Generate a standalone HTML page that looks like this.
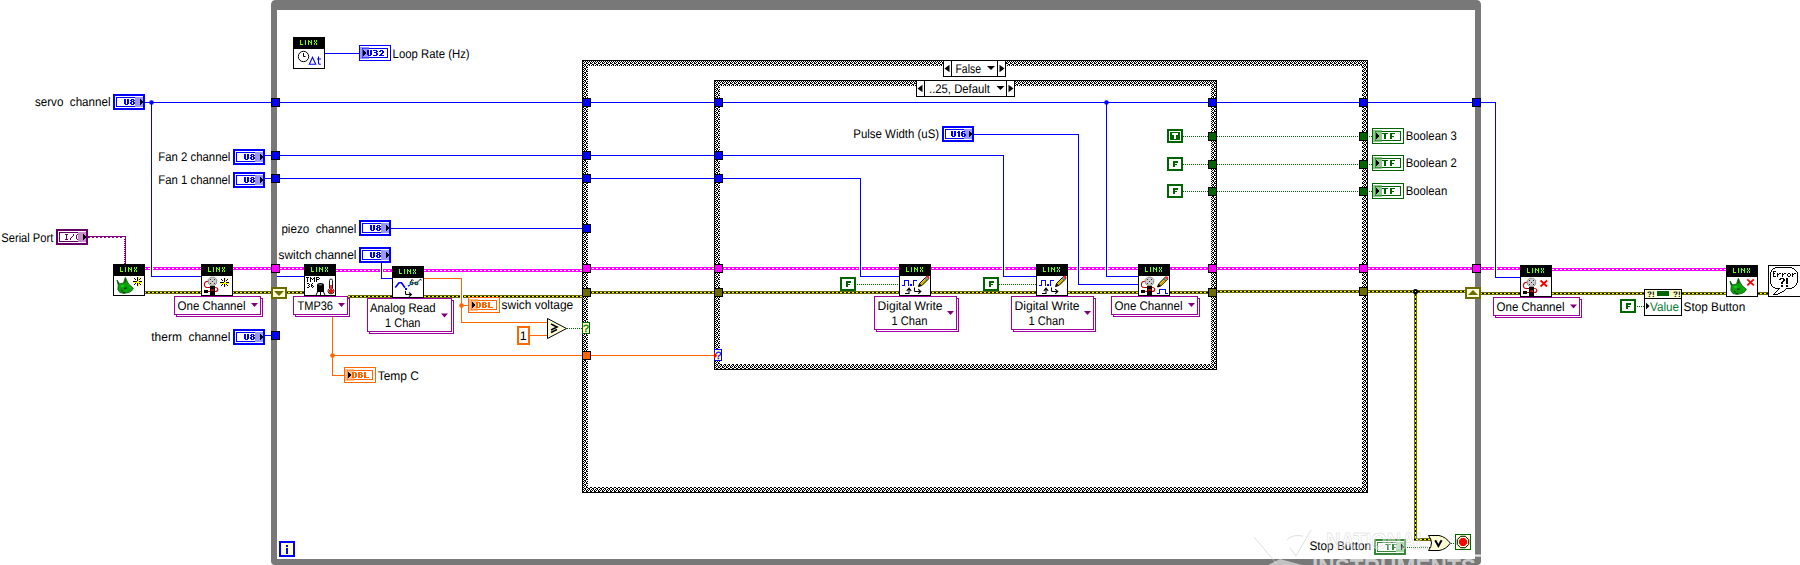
<!DOCTYPE html>
<html><head><meta charset="utf-8"><title>Block Diagram</title>
<style>html,body{margin:0;padding:0;background:#fff;}body{width:1800px;height:565px;overflow:hidden;font-family:"Liberation Sans",sans-serif;}svg{display:block}</style>
</head><body>
<svg width="1800" height="565" viewBox="0 0 1800 565" shape-rendering="crispEdges" text-rendering="geometricPrecision">
<defs>
<pattern id="pd" width="4" height="1" patternUnits="userSpaceOnUse"><rect width="2" height="1" fill="#fff"/><rect x="2" width="2" height="1" fill="#ff00ff"/></pattern>
<pattern id="yd" width="4" height="1" patternUnits="userSpaceOnUse"><rect width="2" height="1" fill="#ffff00"/><rect x="2" width="2" height="1" fill="#000"/></pattern>
<pattern id="ydv" width="1" height="4" patternUnits="userSpaceOnUse"><rect width="1" height="2" fill="#ffff00"/><rect y="2" width="1" height="2" fill="#000"/></pattern>
<pattern id="gd" width="2" height="1" patternUnits="userSpaceOnUse"><rect width="1" height="1" fill="#fff"/><rect x="1" width="1" height="1" fill="#006400"/></pattern>
<pattern id="ck" width="4" height="4" patternUnits="userSpaceOnUse"><rect width="4" height="4" fill="#fff"/><rect x="0" y="0" width="1" height="1" fill="#000"/><rect x="1" y="0" width="1" height="1" fill="#000"/><rect x="1" y="1" width="1" height="1" fill="#000"/><rect x="3" y="1" width="1" height="1" fill="#000"/><rect x="0" y="2" width="1" height="1" fill="#000"/><rect x="2" y="2" width="1" height="1" fill="#000"/><rect x="2" y="3" width="1" height="1" fill="#000"/><rect x="3" y="3" width="1" height="1" fill="#000"/></pattern>
</defs>
<rect x="0" y="0" width="1800" height="565" fill="#fff" />
<path d="M271,561 V5 Q271,0 276,0 H1476 Q1481,0 1481,5 V561 Q1481,565 1477,565 H275 Q271,565 271,561 Z" fill="#787878" shape-rendering="auto"/>
<rect x="277" y="10" width="1198" height="549" fill="#fff" />
<rect x="582" y="60" width="786" height="433" fill="#000" />
<rect x="583" y="61" width="784" height="431" fill="url(#ck)" />
<rect x="588" y="66" width="774" height="421" fill="#fff" />
<rect x="714" y="80" width="503" height="290" fill="#000" />
<rect x="715" y="81" width="501" height="288" fill="url(#ck)" />
<rect x="720" y="86" width="491" height="278" fill="#fff" />
<rect x="943" y="60" width="63" height="17" fill="#000" />
<rect x="944" y="61" width="61" height="15" fill="#fff" />
<rect x="951" y="60" width="1" height="17" fill="#000" />
<rect x="997" y="60" width="1" height="17" fill="#000" />
<path d="M944.5,68.5 l5,-3.7 v7.4 Z" fill="#000" shape-rendering="auto"/>
<path d="M1004.5,68.5 l-5,-3.7 v7.4 Z" fill="#000" shape-rendering="auto"/>
<text x="955.5" y="72.5" font-size="12.5" fill="#000" text-anchor="start" font-weight="normal" font-family="Liberation Sans" textLength="25.5" lengthAdjust="spacingAndGlyphs" xml:space="preserve" >False</text>
<path d="M987,66 h8 l-4,4 Z" fill="#000" shape-rendering="auto"/>
<rect x="916" y="80" width="99" height="17" fill="#000" />
<rect x="917" y="81" width="97" height="15" fill="#fff" />
<rect x="924" y="80" width="1" height="17" fill="#000" />
<rect x="1006" y="80" width="1" height="17" fill="#000" />
<path d="M917.5,88.5 l5,-3.7 v7.4 Z" fill="#000" shape-rendering="auto"/>
<path d="M1013.5,88.5 l-5,-3.7 v7.4 Z" fill="#000" shape-rendering="auto"/>
<text x="929" y="92.5" font-size="12.5" fill="#000" text-anchor="start" font-weight="normal" font-family="Liberation Sans" textLength="61" lengthAdjust="spacingAndGlyphs" xml:space="preserve" >..25, Default</text>
<path d="M996.5,86 h8 l-4,4 Z" fill="#000" shape-rendering="auto"/>
<rect x="145" y="102" width="1350" height="1" fill="#0000ff" />
<rect x="151" y="102" width="1" height="175" fill="#0000ff" />
<rect x="151" y="276" width="50" height="1" fill="#0000ff" />
<circle cx="151.5" cy="102.5" r="2.3" fill="#0000ff" shape-rendering="auto"/>
<rect x="1495" y="102" width="1" height="176" fill="#0000ff" />
<rect x="1495" y="277" width="25" height="1" fill="#0000ff" />
<rect x="1106" y="102" width="1" height="175" fill="#0000ff" />
<rect x="1106" y="276" width="32" height="1" fill="#0000ff" />
<circle cx="1106.5" cy="102.5" r="2.3" fill="#0000ff" shape-rendering="auto"/>
<rect x="265" y="155" width="739" height="1" fill="#0000ff" />
<rect x="1003" y="155" width="1" height="122" fill="#0000ff" />
<rect x="1003" y="276" width="33" height="1" fill="#0000ff" />
<rect x="265" y="178" width="596" height="1" fill="#0000ff" />
<rect x="860" y="178" width="1" height="99" fill="#0000ff" />
<rect x="860" y="276" width="39" height="1" fill="#0000ff" />
<rect x="391" y="228" width="192" height="1" fill="#0000ff" />
<rect x="381" y="263" width="1" height="16" fill="#0000ff" />
<rect x="381" y="278" width="11" height="1" fill="#0000ff" />
<rect x="265" y="335" width="7" height="1" fill="#0000ff" />
<rect x="277" y="276" width="27" height="1" fill="#0000ff" />
<rect x="325" y="53" width="34" height="1" fill="#0000ff" />
<rect x="974" y="134" width="105" height="1" fill="#0000ff" />
<rect x="1078" y="134" width="1" height="151" fill="#0000ff" />
<rect x="1078" y="284" width="60" height="1" fill="#0000ff" />
<rect x="145" y="267" width="56" height="3" fill="#ff00ff" />
<rect x="145" y="268" width="56" height="1" fill="url(#pd)" />
<rect x="233" y="267" width="71" height="3" fill="#ff00ff" />
<rect x="233" y="268" width="71" height="1" fill="url(#pd)" />
<rect x="336" y="269" width="56" height="3" fill="#ff00ff" />
<rect x="336" y="270" width="56" height="1" fill="url(#pd)" />
<rect x="424" y="269" width="159" height="3" fill="#ff00ff" />
<rect x="424" y="270" width="159" height="1" fill="url(#pd)" />
<rect x="590" y="267" width="309" height="3" fill="#ff00ff" />
<rect x="590" y="268" width="309" height="1" fill="url(#pd)" />
<rect x="931" y="267" width="105" height="3" fill="#ff00ff" />
<rect x="931" y="268" width="105" height="1" fill="url(#pd)" />
<rect x="1068" y="267" width="70" height="3" fill="#ff00ff" />
<rect x="1068" y="268" width="70" height="1" fill="url(#pd)" />
<rect x="1170" y="267" width="350" height="3" fill="#ff00ff" />
<rect x="1170" y="268" width="350" height="1" fill="url(#pd)" />
<rect x="1552" y="268" width="174" height="3" fill="#ff00ff" />
<rect x="1552" y="269" width="174" height="1" fill="url(#pd)" />
<rect x="145" y="291" width="56" height="3" fill="#6b6b00" />
<rect x="145" y="292" width="56" height="1" fill="url(#yd)" />
<rect x="233" y="291" width="71" height="3" fill="#6b6b00" />
<rect x="233" y="292" width="71" height="1" fill="url(#yd)" />
<rect x="348" y="295" width="44" height="3" fill="#6b6b00" />
<rect x="348" y="296" width="44" height="1" fill="url(#yd)" />
<rect x="424" y="295" width="159" height="3" fill="#6b6b00" />
<rect x="424" y="296" width="159" height="1" fill="url(#yd)" />
<rect x="590" y="291" width="309" height="3" fill="#6b6b00" />
<rect x="590" y="292" width="309" height="1" fill="url(#yd)" />
<rect x="931" y="291" width="105" height="3" fill="#6b6b00" />
<rect x="931" y="292" width="105" height="1" fill="url(#yd)" />
<rect x="1068" y="291" width="70" height="3" fill="#6b6b00" />
<rect x="1068" y="292" width="70" height="1" fill="url(#yd)" />
<rect x="1170" y="291" width="39" height="3" fill="#6b6b00" />
<rect x="1170" y="292" width="39" height="1" fill="url(#yd)" />
<rect x="1216" y="290" width="250" height="3" fill="#6b6b00" />
<rect x="1216" y="291" width="250" height="1" fill="url(#yd)" />
<rect x="1480" y="292" width="40" height="3" fill="#6b6b00" />
<rect x="1480" y="293" width="40" height="1" fill="url(#yd)" />
<rect x="1552" y="292" width="174" height="3" fill="#6b6b00" />
<rect x="1552" y="293" width="174" height="1" fill="url(#yd)" />
<rect x="1758" y="292" width="10" height="3" fill="#6b6b00" />
<rect x="1758" y="293" width="10" height="1" fill="url(#yd)" />
<rect x="1414" y="292" width="3" height="249" fill="#6b6b00" />
<rect x="1415" y="292" width="1" height="249" fill="url(#ydv)" />
<rect x="1414" y="538" width="18" height="3" fill="#6b6b00" />
<rect x="1414" y="539" width="18" height="1" fill="url(#yd)" />
<circle cx="1415.5" cy="291.5" r="2.6" fill="#000" shape-rendering="auto"/><rect x="1415" y="291" width="1" height="1" fill="#ff0"/>
<rect x="150" y="266" width="3" height="5" fill="#fff" />
<rect x="151" y="266" width="1" height="5" fill="#0000ff" />
<rect x="380" y="268" width="3" height="5" fill="#fff" />
<rect x="381" y="268" width="1" height="5" fill="#0000ff" />
<rect x="859" y="266" width="3" height="5" fill="#fff" />
<rect x="860" y="266" width="1" height="5" fill="#0000ff" />
<rect x="1002" y="266" width="3" height="5" fill="#fff" />
<rect x="1003" y="266" width="1" height="5" fill="#0000ff" />
<rect x="1077" y="266" width="3" height="5" fill="#fff" />
<rect x="1078" y="266" width="1" height="5" fill="#0000ff" />
<rect x="1105" y="266" width="3" height="5" fill="#fff" />
<rect x="1106" y="266" width="1" height="5" fill="#0000ff" />
<rect x="1494" y="266" width="3" height="5" fill="#fff" />
<rect x="1495" y="266" width="1" height="5" fill="#0000ff" />
<rect x="424" y="278" width="38" height="1" fill="#ff6600" />
<rect x="461" y="278" width="1" height="45" fill="#ff6600" />
<rect x="461" y="322" width="86" height="1" fill="#ff6600" />
<rect x="460" y="294" width="3" height="5" fill="#fff" />
<rect x="461" y="294" width="1" height="5" fill="#ff6600" />
<rect x="461" y="305" width="7" height="1" fill="#ff6600" />
<circle cx="461.5" cy="305.5" r="2.3" fill="#ff6600" shape-rendering="auto"/>
<rect x="530" y="335" width="18" height="1" fill="#ff6600" />
<rect x="332" y="316" width="1" height="60" fill="#ff6600" />
<rect x="332" y="375" width="12" height="1" fill="#ff6600" />
<rect x="332" y="355" width="383" height="1" fill="#ff6600" />
<circle cx="332.5" cy="355.5" r="2.3" fill="#ff6600" shape-rendering="auto"/>
<rect x="567" y="328" width="16" height="1" fill="url(#gd)" />
<rect x="1183" y="136" width="189" height="1" fill="url(#gd)" />
<rect x="1183" y="164" width="189" height="1" fill="url(#gd)" />
<rect x="1183" y="191" width="189" height="1" fill="url(#gd)" />
<rect x="856" y="284" width="43" height="1" fill="url(#gd)" />
<rect x="999" y="284" width="37" height="1" fill="url(#gd)" />
<rect x="1636" y="306" width="8" height="1" fill="url(#gd)" />
<rect x="1406" y="547" width="26" height="1" fill="url(#gd)" />
<rect x="1450" y="543" width="5" height="1" fill="url(#gd)" />
<rect x="88" y="236" width="38" height="1" fill="#800080" />
<rect x="125" y="236" width="1" height="28" fill="#800080" />
<rect x="88" y="237" width="2" height="1" fill="#800080" />
<rect x="92" y="237" width="2" height="1" fill="#800080" />
<rect x="96" y="237" width="2" height="1" fill="#800080" />
<rect x="100" y="237" width="2" height="1" fill="#800080" />
<rect x="104" y="237" width="2" height="1" fill="#800080" />
<rect x="108" y="237" width="2" height="1" fill="#800080" />
<rect x="112" y="237" width="2" height="1" fill="#800080" />
<rect x="116" y="237" width="2" height="1" fill="#800080" />
<rect x="120" y="237" width="2" height="1" fill="#800080" />
<rect x="124" y="239" width="1" height="1" fill="#800080" />
<rect x="124" y="241" width="1" height="1" fill="#800080" />
<rect x="124" y="243" width="1" height="1" fill="#800080" />
<rect x="124" y="245" width="1" height="1" fill="#800080" />
<rect x="124" y="247" width="1" height="1" fill="#800080" />
<rect x="124" y="249" width="1" height="1" fill="#800080" />
<rect x="124" y="251" width="1" height="1" fill="#800080" />
<rect x="124" y="253" width="1" height="1" fill="#800080" />
<rect x="124" y="255" width="1" height="1" fill="#800080" />
<rect x="124" y="257" width="1" height="1" fill="#800080" />
<rect x="124" y="259" width="1" height="1" fill="#800080" />
<rect x="124" y="261" width="1" height="1" fill="#800080" />
<rect x="124" y="263" width="1" height="1" fill="#800080" />
<rect x="271" y="98" width="9" height="9" fill="#000" />
<rect x="272" y="99" width="7" height="7" fill="#0000ff" />
<rect x="271" y="151" width="9" height="9" fill="#000" />
<rect x="272" y="152" width="7" height="7" fill="#0000ff" />
<rect x="271" y="174" width="9" height="9" fill="#000" />
<rect x="272" y="175" width="7" height="7" fill="#0000ff" />
<rect x="271" y="331" width="9" height="9" fill="#000" />
<rect x="272" y="332" width="7" height="7" fill="#0000ff" />
<rect x="271" y="264" width="9" height="9" fill="#000" />
<rect x="272" y="265" width="7" height="7" fill="#ff00ff" />
<rect x="582" y="98" width="9" height="9" fill="#000" />
<rect x="583" y="99" width="7" height="7" fill="#0000ff" />
<rect x="582" y="151" width="9" height="9" fill="#000" />
<rect x="583" y="152" width="7" height="7" fill="#0000ff" />
<rect x="582" y="174" width="9" height="9" fill="#000" />
<rect x="583" y="175" width="7" height="7" fill="#0000ff" />
<rect x="582" y="224" width="9" height="9" fill="#000" />
<rect x="583" y="225" width="7" height="7" fill="#0000ff" />
<rect x="582" y="264" width="9" height="9" fill="#000" />
<rect x="583" y="265" width="7" height="7" fill="#ff00ff" />
<rect x="582" y="288" width="9" height="9" fill="#000" />
<rect x="583" y="289" width="7" height="7" fill="#6b6b00" />
<rect x="582" y="351" width="9" height="9" fill="#000" />
<rect x="583" y="352" width="7" height="7" fill="#ff6600" />
<rect x="714" y="98" width="9" height="9" fill="#000" />
<rect x="715" y="99" width="7" height="7" fill="#0000ff" />
<rect x="714" y="151" width="9" height="9" fill="#000" />
<rect x="715" y="152" width="7" height="7" fill="#0000ff" />
<rect x="714" y="174" width="9" height="9" fill="#000" />
<rect x="715" y="175" width="7" height="7" fill="#0000ff" />
<rect x="714" y="264" width="9" height="9" fill="#000" />
<rect x="715" y="265" width="7" height="7" fill="#ff00ff" />
<rect x="714" y="288" width="9" height="9" fill="#000" />
<rect x="715" y="289" width="7" height="7" fill="#6b6b00" />
<rect x="1208" y="98" width="9" height="9" fill="#000" />
<rect x="1209" y="99" width="7" height="7" fill="#0000ff" />
<rect x="1208" y="264" width="9" height="9" fill="#000" />
<rect x="1209" y="265" width="7" height="7" fill="#ff00ff" />
<rect x="1208" y="288" width="9" height="9" fill="#000" />
<rect x="1209" y="289" width="7" height="7" fill="#6b6b00" />
<rect x="1208" y="132" width="9" height="9" fill="#000" />
<rect x="1209" y="133" width="7" height="7" fill="#006400" />
<rect x="1359" y="132" width="9" height="9" fill="#000" />
<rect x="1360" y="133" width="7" height="7" fill="#006400" />
<rect x="1208" y="160" width="9" height="9" fill="#000" />
<rect x="1209" y="161" width="7" height="7" fill="#006400" />
<rect x="1359" y="160" width="9" height="9" fill="#000" />
<rect x="1360" y="161" width="7" height="7" fill="#006400" />
<rect x="1208" y="187" width="9" height="9" fill="#000" />
<rect x="1209" y="188" width="7" height="7" fill="#006400" />
<rect x="1359" y="187" width="9" height="9" fill="#000" />
<rect x="1360" y="188" width="7" height="7" fill="#006400" />
<rect x="1359" y="98" width="9" height="9" fill="#000" />
<rect x="1360" y="99" width="7" height="7" fill="#0000ff" />
<rect x="1359" y="264" width="9" height="9" fill="#000" />
<rect x="1360" y="265" width="7" height="7" fill="#ff00ff" />
<rect x="1359" y="287" width="9" height="9" fill="#000" />
<rect x="1360" y="288" width="7" height="7" fill="#6b6b00" />
<rect x="1472" y="98" width="9" height="9" fill="#000" />
<rect x="1473" y="99" width="7" height="7" fill="#0000ff" />
<rect x="1472" y="264" width="9" height="9" fill="#000" />
<rect x="1473" y="265" width="7" height="7" fill="#ff00ff" />
<rect x="582" y="322" width="8" height="12" fill="#006400" />
<rect x="583" y="323" width="6" height="10" fill="#ffffc8" />
<text x="586" y="332" font-size="10.5" fill="#006400" text-anchor="middle" font-weight="normal" font-family="Liberation Sans" xml:space="preserve" stroke="#006400" stroke-width="0.3">?</text>
<rect x="714" y="349" width="8" height="12" fill="#0000ff" />
<rect x="715" y="350" width="6" height="10" fill="#ffffc8" />
<text x="718.3" y="359" font-size="10.5" fill="#0000ff" text-anchor="middle" font-weight="normal" font-family="Liberation Sans" xml:space="preserve" stroke="#0000ff" stroke-width="0.3">?</text>
<path d="M714,352 L717.3,355.5 L714,359 Z" fill="#ff0000" stroke="none" stroke-width="1" shape-rendering="auto" />
<rect x="271" y="287" width="16" height="12" fill="#6b6b00" />
<rect x="273" y="289" width="12" height="8" fill="#ffffd8" />
<path d="M274,291 h10 l-5,5 Z" fill="#6b6b00" shape-rendering="auto"/>
<rect x="1465" y="287" width="16" height="12" fill="#6b6b00" />
<rect x="1467" y="289" width="12" height="8" fill="#ffffd8" />
<path d="M1468,295 h10 l-5,-5 Z" fill="#6b6b00" shape-rendering="auto"/>
<rect x="279" y="541" width="16" height="16" fill="#0000ff" />
<rect x="281" y="543" width="12" height="12" fill="#ffffc8" />
<rect x="286" y="545" width="2" height="2" fill="#0000ff" />
<rect x="286" y="548" width="2" height="6" fill="#0000ff" />
<rect x="113" y="94" width="32" height="16" fill="#0000ff" />
<rect x="115" y="96" width="28" height="12" fill="#fff" />
<rect x="116" y="97" width="26" height="10" fill="#0000ff" />
<rect x="117" y="98" width="24" height="8" fill="#fff" />
<rect x="135" y="97" width="8" height="10" fill="#9999ff" />
<rect x="140" y="99" width="1" height="6" fill="#000" />
<rect x="141" y="100" width="1" height="4" fill="#000" />
<rect x="142" y="101" width="1" height="2" fill="#000" />
<rect x="124" y="99" width="2" height="1" fill="#0000ff" />
<rect x="127" y="99" width="2" height="1" fill="#0000ff" />
<rect x="124" y="100" width="2" height="1" fill="#0000ff" />
<rect x="127" y="100" width="2" height="1" fill="#0000ff" />
<rect x="124" y="101" width="2" height="1" fill="#0000ff" />
<rect x="127" y="101" width="2" height="1" fill="#0000ff" />
<rect x="124" y="102" width="2" height="1" fill="#0000ff" />
<rect x="127" y="102" width="2" height="1" fill="#0000ff" />
<rect x="124" y="103" width="2" height="1" fill="#0000ff" />
<rect x="127" y="103" width="2" height="1" fill="#0000ff" />
<rect x="125" y="104" width="3" height="1" fill="#0000ff" />
<rect x="131" y="99" width="3" height="1" fill="#0000ff" />
<rect x="130" y="100" width="2" height="1" fill="#0000ff" />
<rect x="133" y="100" width="2" height="1" fill="#0000ff" />
<rect x="131" y="101" width="3" height="1" fill="#0000ff" />
<rect x="130" y="102" width="2" height="1" fill="#0000ff" />
<rect x="133" y="102" width="2" height="1" fill="#0000ff" />
<rect x="130" y="103" width="2" height="1" fill="#0000ff" />
<rect x="133" y="103" width="2" height="1" fill="#0000ff" />
<rect x="131" y="104" width="3" height="1" fill="#0000ff" />
<rect x="233" y="149" width="32" height="16" fill="#0000ff" />
<rect x="235" y="151" width="28" height="12" fill="#fff" />
<rect x="236" y="152" width="26" height="10" fill="#0000ff" />
<rect x="237" y="153" width="24" height="8" fill="#fff" />
<rect x="255" y="152" width="8" height="10" fill="#9999ff" />
<rect x="260" y="154" width="1" height="6" fill="#000" />
<rect x="261" y="155" width="1" height="4" fill="#000" />
<rect x="262" y="156" width="1" height="2" fill="#000" />
<rect x="244" y="154" width="2" height="1" fill="#0000ff" />
<rect x="247" y="154" width="2" height="1" fill="#0000ff" />
<rect x="244" y="155" width="2" height="1" fill="#0000ff" />
<rect x="247" y="155" width="2" height="1" fill="#0000ff" />
<rect x="244" y="156" width="2" height="1" fill="#0000ff" />
<rect x="247" y="156" width="2" height="1" fill="#0000ff" />
<rect x="244" y="157" width="2" height="1" fill="#0000ff" />
<rect x="247" y="157" width="2" height="1" fill="#0000ff" />
<rect x="244" y="158" width="2" height="1" fill="#0000ff" />
<rect x="247" y="158" width="2" height="1" fill="#0000ff" />
<rect x="245" y="159" width="3" height="1" fill="#0000ff" />
<rect x="251" y="154" width="3" height="1" fill="#0000ff" />
<rect x="250" y="155" width="2" height="1" fill="#0000ff" />
<rect x="253" y="155" width="2" height="1" fill="#0000ff" />
<rect x="251" y="156" width="3" height="1" fill="#0000ff" />
<rect x="250" y="157" width="2" height="1" fill="#0000ff" />
<rect x="253" y="157" width="2" height="1" fill="#0000ff" />
<rect x="250" y="158" width="2" height="1" fill="#0000ff" />
<rect x="253" y="158" width="2" height="1" fill="#0000ff" />
<rect x="251" y="159" width="3" height="1" fill="#0000ff" />
<rect x="233" y="172" width="32" height="16" fill="#0000ff" />
<rect x="235" y="174" width="28" height="12" fill="#fff" />
<rect x="236" y="175" width="26" height="10" fill="#0000ff" />
<rect x="237" y="176" width="24" height="8" fill="#fff" />
<rect x="255" y="175" width="8" height="10" fill="#9999ff" />
<rect x="260" y="177" width="1" height="6" fill="#000" />
<rect x="261" y="178" width="1" height="4" fill="#000" />
<rect x="262" y="179" width="1" height="2" fill="#000" />
<rect x="244" y="177" width="2" height="1" fill="#0000ff" />
<rect x="247" y="177" width="2" height="1" fill="#0000ff" />
<rect x="244" y="178" width="2" height="1" fill="#0000ff" />
<rect x="247" y="178" width="2" height="1" fill="#0000ff" />
<rect x="244" y="179" width="2" height="1" fill="#0000ff" />
<rect x="247" y="179" width="2" height="1" fill="#0000ff" />
<rect x="244" y="180" width="2" height="1" fill="#0000ff" />
<rect x="247" y="180" width="2" height="1" fill="#0000ff" />
<rect x="244" y="181" width="2" height="1" fill="#0000ff" />
<rect x="247" y="181" width="2" height="1" fill="#0000ff" />
<rect x="245" y="182" width="3" height="1" fill="#0000ff" />
<rect x="251" y="177" width="3" height="1" fill="#0000ff" />
<rect x="250" y="178" width="2" height="1" fill="#0000ff" />
<rect x="253" y="178" width="2" height="1" fill="#0000ff" />
<rect x="251" y="179" width="3" height="1" fill="#0000ff" />
<rect x="250" y="180" width="2" height="1" fill="#0000ff" />
<rect x="253" y="180" width="2" height="1" fill="#0000ff" />
<rect x="250" y="181" width="2" height="1" fill="#0000ff" />
<rect x="253" y="181" width="2" height="1" fill="#0000ff" />
<rect x="251" y="182" width="3" height="1" fill="#0000ff" />
<rect x="233" y="329" width="32" height="16" fill="#0000ff" />
<rect x="235" y="331" width="28" height="12" fill="#fff" />
<rect x="236" y="332" width="26" height="10" fill="#0000ff" />
<rect x="237" y="333" width="24" height="8" fill="#fff" />
<rect x="255" y="332" width="8" height="10" fill="#9999ff" />
<rect x="260" y="334" width="1" height="6" fill="#000" />
<rect x="261" y="335" width="1" height="4" fill="#000" />
<rect x="262" y="336" width="1" height="2" fill="#000" />
<rect x="244" y="334" width="2" height="1" fill="#0000ff" />
<rect x="247" y="334" width="2" height="1" fill="#0000ff" />
<rect x="244" y="335" width="2" height="1" fill="#0000ff" />
<rect x="247" y="335" width="2" height="1" fill="#0000ff" />
<rect x="244" y="336" width="2" height="1" fill="#0000ff" />
<rect x="247" y="336" width="2" height="1" fill="#0000ff" />
<rect x="244" y="337" width="2" height="1" fill="#0000ff" />
<rect x="247" y="337" width="2" height="1" fill="#0000ff" />
<rect x="244" y="338" width="2" height="1" fill="#0000ff" />
<rect x="247" y="338" width="2" height="1" fill="#0000ff" />
<rect x="245" y="339" width="3" height="1" fill="#0000ff" />
<rect x="251" y="334" width="3" height="1" fill="#0000ff" />
<rect x="250" y="335" width="2" height="1" fill="#0000ff" />
<rect x="253" y="335" width="2" height="1" fill="#0000ff" />
<rect x="251" y="336" width="3" height="1" fill="#0000ff" />
<rect x="250" y="337" width="2" height="1" fill="#0000ff" />
<rect x="253" y="337" width="2" height="1" fill="#0000ff" />
<rect x="250" y="338" width="2" height="1" fill="#0000ff" />
<rect x="253" y="338" width="2" height="1" fill="#0000ff" />
<rect x="251" y="339" width="3" height="1" fill="#0000ff" />
<rect x="359" y="220" width="32" height="16" fill="#0000ff" />
<rect x="361" y="222" width="28" height="12" fill="#fff" />
<rect x="362" y="223" width="26" height="10" fill="#0000ff" />
<rect x="363" y="224" width="24" height="8" fill="#fff" />
<rect x="381" y="223" width="8" height="10" fill="#9999ff" />
<rect x="386" y="225" width="1" height="6" fill="#000" />
<rect x="387" y="226" width="1" height="4" fill="#000" />
<rect x="388" y="227" width="1" height="2" fill="#000" />
<rect x="370" y="225" width="2" height="1" fill="#0000ff" />
<rect x="373" y="225" width="2" height="1" fill="#0000ff" />
<rect x="370" y="226" width="2" height="1" fill="#0000ff" />
<rect x="373" y="226" width="2" height="1" fill="#0000ff" />
<rect x="370" y="227" width="2" height="1" fill="#0000ff" />
<rect x="373" y="227" width="2" height="1" fill="#0000ff" />
<rect x="370" y="228" width="2" height="1" fill="#0000ff" />
<rect x="373" y="228" width="2" height="1" fill="#0000ff" />
<rect x="370" y="229" width="2" height="1" fill="#0000ff" />
<rect x="373" y="229" width="2" height="1" fill="#0000ff" />
<rect x="371" y="230" width="3" height="1" fill="#0000ff" />
<rect x="377" y="225" width="3" height="1" fill="#0000ff" />
<rect x="376" y="226" width="2" height="1" fill="#0000ff" />
<rect x="379" y="226" width="2" height="1" fill="#0000ff" />
<rect x="377" y="227" width="3" height="1" fill="#0000ff" />
<rect x="376" y="228" width="2" height="1" fill="#0000ff" />
<rect x="379" y="228" width="2" height="1" fill="#0000ff" />
<rect x="376" y="229" width="2" height="1" fill="#0000ff" />
<rect x="379" y="229" width="2" height="1" fill="#0000ff" />
<rect x="377" y="230" width="3" height="1" fill="#0000ff" />
<rect x="359" y="247" width="32" height="16" fill="#0000ff" />
<rect x="361" y="249" width="28" height="12" fill="#fff" />
<rect x="362" y="250" width="26" height="10" fill="#0000ff" />
<rect x="363" y="251" width="24" height="8" fill="#fff" />
<rect x="381" y="250" width="8" height="10" fill="#9999ff" />
<rect x="386" y="252" width="1" height="6" fill="#000" />
<rect x="387" y="253" width="1" height="4" fill="#000" />
<rect x="388" y="254" width="1" height="2" fill="#000" />
<rect x="370" y="252" width="2" height="1" fill="#0000ff" />
<rect x="373" y="252" width="2" height="1" fill="#0000ff" />
<rect x="370" y="253" width="2" height="1" fill="#0000ff" />
<rect x="373" y="253" width="2" height="1" fill="#0000ff" />
<rect x="370" y="254" width="2" height="1" fill="#0000ff" />
<rect x="373" y="254" width="2" height="1" fill="#0000ff" />
<rect x="370" y="255" width="2" height="1" fill="#0000ff" />
<rect x="373" y="255" width="2" height="1" fill="#0000ff" />
<rect x="370" y="256" width="2" height="1" fill="#0000ff" />
<rect x="373" y="256" width="2" height="1" fill="#0000ff" />
<rect x="371" y="257" width="3" height="1" fill="#0000ff" />
<rect x="377" y="252" width="3" height="1" fill="#0000ff" />
<rect x="376" y="253" width="2" height="1" fill="#0000ff" />
<rect x="379" y="253" width="2" height="1" fill="#0000ff" />
<rect x="377" y="254" width="3" height="1" fill="#0000ff" />
<rect x="376" y="255" width="2" height="1" fill="#0000ff" />
<rect x="379" y="255" width="2" height="1" fill="#0000ff" />
<rect x="376" y="256" width="2" height="1" fill="#0000ff" />
<rect x="379" y="256" width="2" height="1" fill="#0000ff" />
<rect x="377" y="257" width="3" height="1" fill="#0000ff" />
<rect x="942" y="126" width="32" height="16" fill="#0000ff" />
<rect x="944" y="128" width="28" height="12" fill="#fff" />
<rect x="945" y="129" width="26" height="10" fill="#0000ff" />
<rect x="946" y="130" width="24" height="8" fill="#fff" />
<rect x="964" y="129" width="8" height="10" fill="#9999ff" />
<rect x="969" y="131" width="1" height="6" fill="#000" />
<rect x="970" y="132" width="1" height="4" fill="#000" />
<rect x="971" y="133" width="1" height="2" fill="#000" />
<rect x="951" y="131" width="2" height="1" fill="#0000ff" />
<rect x="954" y="131" width="2" height="1" fill="#0000ff" />
<rect x="951" y="132" width="2" height="1" fill="#0000ff" />
<rect x="954" y="132" width="2" height="1" fill="#0000ff" />
<rect x="951" y="133" width="2" height="1" fill="#0000ff" />
<rect x="954" y="133" width="2" height="1" fill="#0000ff" />
<rect x="951" y="134" width="2" height="1" fill="#0000ff" />
<rect x="954" y="134" width="2" height="1" fill="#0000ff" />
<rect x="951" y="135" width="2" height="1" fill="#0000ff" />
<rect x="954" y="135" width="2" height="1" fill="#0000ff" />
<rect x="952" y="136" width="3" height="1" fill="#0000ff" />
<rect x="958" y="131" width="2" height="1" fill="#0000ff" />
<rect x="957" y="132" width="3" height="1" fill="#0000ff" />
<rect x="958" y="133" width="2" height="1" fill="#0000ff" />
<rect x="958" y="134" width="2" height="1" fill="#0000ff" />
<rect x="958" y="135" width="2" height="1" fill="#0000ff" />
<rect x="958" y="136" width="2" height="1" fill="#0000ff" />
<rect x="962" y="131" width="3" height="1" fill="#0000ff" />
<rect x="961" y="132" width="2" height="1" fill="#0000ff" />
<rect x="961" y="133" width="4" height="1" fill="#0000ff" />
<rect x="961" y="134" width="2" height="1" fill="#0000ff" />
<rect x="964" y="134" width="2" height="1" fill="#0000ff" />
<rect x="961" y="135" width="2" height="1" fill="#0000ff" />
<rect x="964" y="135" width="2" height="1" fill="#0000ff" />
<rect x="962" y="136" width="3" height="1" fill="#0000ff" />
<rect x="56" y="229" width="32" height="16" fill="#660066" />
<rect x="58" y="231" width="28" height="12" fill="#fff" />
<rect x="59" y="232" width="26" height="10" fill="#660066" />
<rect x="60" y="233" width="24" height="8" fill="#fff" />
<rect x="78" y="232" width="8" height="10" fill="#c890c8" />
<rect x="83" y="234" width="1" height="6" fill="#000" />
<rect x="84" y="235" width="1" height="4" fill="#000" />
<rect x="85" y="236" width="1" height="2" fill="#000" />
<rect x="65" y="234" width="3" height="1" fill="#660066" />
<rect x="66" y="235" width="1" height="1" fill="#660066" />
<rect x="66" y="236" width="1" height="1" fill="#660066" />
<rect x="66" y="237" width="1" height="1" fill="#660066" />
<rect x="66" y="238" width="1" height="1" fill="#660066" />
<rect x="65" y="239" width="3" height="1" fill="#660066" />
<rect x="73" y="234" width="1" height="1" fill="#660066" />
<rect x="73" y="235" width="1" height="1" fill="#660066" />
<rect x="72" y="236" width="1" height="1" fill="#660066" />
<rect x="71" y="237" width="1" height="1" fill="#660066" />
<rect x="70" y="238" width="1" height="1" fill="#660066" />
<rect x="70" y="239" width="1" height="1" fill="#660066" />
<rect x="77" y="234" width="3" height="1" fill="#660066" />
<rect x="76" y="235" width="1" height="1" fill="#660066" />
<rect x="80" y="235" width="1" height="1" fill="#660066" />
<rect x="76" y="236" width="1" height="1" fill="#660066" />
<rect x="80" y="236" width="1" height="1" fill="#660066" />
<rect x="76" y="237" width="1" height="1" fill="#660066" />
<rect x="80" y="237" width="1" height="1" fill="#660066" />
<rect x="76" y="238" width="1" height="1" fill="#660066" />
<rect x="80" y="238" width="1" height="1" fill="#660066" />
<rect x="77" y="239" width="3" height="1" fill="#660066" />
<rect x="78" y="232" width="8" height="10" fill="#c890c8" />
<rect x="83" y="234" width="1" height="6" fill="#000" />
<rect x="84" y="235" width="1" height="4" fill="#000" />
<rect x="85" y="236" width="1" height="2" fill="#000" />
<rect x="359" y="45" width="32" height="16" fill="#0000ff" />
<rect x="360" y="46" width="30" height="14" fill="#fff" />
<rect x="362" y="48" width="26" height="10" fill="#0000ff" />
<rect x="363" y="49" width="24" height="8" fill="#fff" />
<rect x="360" y="47" width="9" height="12" fill="#9999ff" />
<rect x="362" y="48" width="7" height="1" fill="#0000ff" opacity="0.55"/>
<rect x="362" y="57" width="7" height="1" fill="#0000ff" opacity="0.55"/>
<rect x="362" y="48" width="1" height="10" fill="#0000ff" opacity="0.55"/>
<rect x="363" y="50" width="1" height="6" fill="#000" />
<rect x="364" y="51" width="1" height="4" fill="#000" />
<rect x="365" y="52" width="1" height="2" fill="#000" />
<rect x="367" y="50" width="2" height="1" fill="#0000ff" />
<rect x="370" y="50" width="2" height="1" fill="#0000ff" />
<rect x="367" y="51" width="2" height="1" fill="#0000ff" />
<rect x="370" y="51" width="2" height="1" fill="#0000ff" />
<rect x="367" y="52" width="2" height="1" fill="#0000ff" />
<rect x="370" y="52" width="2" height="1" fill="#0000ff" />
<rect x="367" y="53" width="2" height="1" fill="#0000ff" />
<rect x="370" y="53" width="2" height="1" fill="#0000ff" />
<rect x="367" y="54" width="2" height="1" fill="#0000ff" />
<rect x="370" y="54" width="2" height="1" fill="#0000ff" />
<rect x="368" y="55" width="3" height="1" fill="#0000ff" />
<rect x="373" y="50" width="4" height="1" fill="#0000ff" />
<rect x="376" y="51" width="2" height="1" fill="#0000ff" />
<rect x="374" y="52" width="3" height="1" fill="#0000ff" />
<rect x="376" y="53" width="2" height="1" fill="#0000ff" />
<rect x="376" y="54" width="2" height="1" fill="#0000ff" />
<rect x="373" y="55" width="4" height="1" fill="#0000ff" />
<rect x="380" y="50" width="3" height="1" fill="#0000ff" />
<rect x="379" y="51" width="2" height="1" fill="#0000ff" />
<rect x="382" y="51" width="2" height="1" fill="#0000ff" />
<rect x="382" y="52" width="2" height="1" fill="#0000ff" />
<rect x="381" y="53" width="2" height="1" fill="#0000ff" />
<rect x="380" y="54" width="2" height="1" fill="#0000ff" />
<rect x="379" y="55" width="5" height="1" fill="#0000ff" />
<rect x="468" y="297" width="32" height="16" fill="#ff6600" />
<rect x="469" y="298" width="30" height="14" fill="#fff" />
<rect x="471" y="300" width="26" height="10" fill="#ff6600" />
<rect x="472" y="301" width="24" height="8" fill="#fff" />
<rect x="469" y="299" width="9" height="12" fill="#ffc090" />
<rect x="471" y="300" width="7" height="1" fill="#ff6600" opacity="0.55"/>
<rect x="471" y="309" width="7" height="1" fill="#ff6600" opacity="0.55"/>
<rect x="471" y="300" width="1" height="10" fill="#ff6600" opacity="0.55"/>
<rect x="472" y="302" width="1" height="6" fill="#000" />
<rect x="473" y="303" width="1" height="4" fill="#000" />
<rect x="474" y="304" width="1" height="2" fill="#000" />
<rect x="476" y="302" width="4" height="1" fill="#ff6600" />
<rect x="476" y="303" width="2" height="1" fill="#ff6600" />
<rect x="479" y="303" width="2" height="1" fill="#ff6600" />
<rect x="476" y="304" width="2" height="1" fill="#ff6600" />
<rect x="479" y="304" width="2" height="1" fill="#ff6600" />
<rect x="476" y="305" width="2" height="1" fill="#ff6600" />
<rect x="479" y="305" width="2" height="1" fill="#ff6600" />
<rect x="476" y="306" width="2" height="1" fill="#ff6600" />
<rect x="479" y="306" width="2" height="1" fill="#ff6600" />
<rect x="476" y="307" width="4" height="1" fill="#ff6600" />
<rect x="482" y="302" width="4" height="1" fill="#ff6600" />
<rect x="482" y="303" width="2" height="1" fill="#ff6600" />
<rect x="485" y="303" width="2" height="1" fill="#ff6600" />
<rect x="482" y="304" width="4" height="1" fill="#ff6600" />
<rect x="482" y="305" width="2" height="1" fill="#ff6600" />
<rect x="485" y="305" width="2" height="1" fill="#ff6600" />
<rect x="482" y="306" width="2" height="1" fill="#ff6600" />
<rect x="485" y="306" width="2" height="1" fill="#ff6600" />
<rect x="482" y="307" width="4" height="1" fill="#ff6600" />
<rect x="488" y="302" width="2" height="1" fill="#ff6600" />
<rect x="488" y="303" width="2" height="1" fill="#ff6600" />
<rect x="488" y="304" width="2" height="1" fill="#ff6600" />
<rect x="488" y="305" width="2" height="1" fill="#ff6600" />
<rect x="488" y="306" width="2" height="1" fill="#ff6600" />
<rect x="488" y="307" width="5" height="1" fill="#ff6600" />
<rect x="344" y="367" width="32" height="16" fill="#ff6600" />
<rect x="345" y="368" width="30" height="14" fill="#fff" />
<rect x="347" y="370" width="26" height="10" fill="#ff6600" />
<rect x="348" y="371" width="24" height="8" fill="#fff" />
<rect x="345" y="369" width="9" height="12" fill="#ffc090" />
<rect x="347" y="370" width="7" height="1" fill="#ff6600" opacity="0.55"/>
<rect x="347" y="379" width="7" height="1" fill="#ff6600" opacity="0.55"/>
<rect x="347" y="370" width="1" height="10" fill="#ff6600" opacity="0.55"/>
<rect x="348" y="372" width="1" height="6" fill="#000" />
<rect x="349" y="373" width="1" height="4" fill="#000" />
<rect x="350" y="374" width="1" height="2" fill="#000" />
<rect x="352" y="372" width="4" height="1" fill="#ff6600" />
<rect x="352" y="373" width="2" height="1" fill="#ff6600" />
<rect x="355" y="373" width="2" height="1" fill="#ff6600" />
<rect x="352" y="374" width="2" height="1" fill="#ff6600" />
<rect x="355" y="374" width="2" height="1" fill="#ff6600" />
<rect x="352" y="375" width="2" height="1" fill="#ff6600" />
<rect x="355" y="375" width="2" height="1" fill="#ff6600" />
<rect x="352" y="376" width="2" height="1" fill="#ff6600" />
<rect x="355" y="376" width="2" height="1" fill="#ff6600" />
<rect x="352" y="377" width="4" height="1" fill="#ff6600" />
<rect x="358" y="372" width="4" height="1" fill="#ff6600" />
<rect x="358" y="373" width="2" height="1" fill="#ff6600" />
<rect x="361" y="373" width="2" height="1" fill="#ff6600" />
<rect x="358" y="374" width="4" height="1" fill="#ff6600" />
<rect x="358" y="375" width="2" height="1" fill="#ff6600" />
<rect x="361" y="375" width="2" height="1" fill="#ff6600" />
<rect x="358" y="376" width="2" height="1" fill="#ff6600" />
<rect x="361" y="376" width="2" height="1" fill="#ff6600" />
<rect x="358" y="377" width="4" height="1" fill="#ff6600" />
<rect x="364" y="372" width="2" height="1" fill="#ff6600" />
<rect x="364" y="373" width="2" height="1" fill="#ff6600" />
<rect x="364" y="374" width="2" height="1" fill="#ff6600" />
<rect x="364" y="375" width="2" height="1" fill="#ff6600" />
<rect x="364" y="376" width="2" height="1" fill="#ff6600" />
<rect x="364" y="377" width="5" height="1" fill="#ff6600" />
<rect x="1372" y="128" width="32" height="16" fill="#006400" />
<rect x="1373" y="129" width="30" height="14" fill="#fff" />
<rect x="1375" y="131" width="26" height="10" fill="#006400" />
<rect x="1376" y="132" width="24" height="8" fill="#fff" />
<rect x="1373" y="130" width="9" height="12" fill="#90c890" />
<rect x="1375" y="131" width="7" height="1" fill="#006400" opacity="0.55"/>
<rect x="1375" y="140" width="7" height="1" fill="#006400" opacity="0.55"/>
<rect x="1375" y="131" width="1" height="10" fill="#006400" opacity="0.55"/>
<rect x="1376" y="133" width="1" height="6" fill="#000" />
<rect x="1377" y="134" width="1" height="4" fill="#000" />
<rect x="1378" y="135" width="1" height="2" fill="#000" />
<rect x="1382" y="133" width="6" height="1" fill="#006400" />
<rect x="1384" y="134" width="2" height="1" fill="#006400" />
<rect x="1384" y="135" width="2" height="1" fill="#006400" />
<rect x="1384" y="136" width="2" height="1" fill="#006400" />
<rect x="1384" y="137" width="2" height="1" fill="#006400" />
<rect x="1384" y="138" width="2" height="1" fill="#006400" />
<rect x="1390" y="133" width="5" height="1" fill="#006400" />
<rect x="1390" y="134" width="2" height="1" fill="#006400" />
<rect x="1390" y="135" width="2" height="1" fill="#006400" />
<rect x="1390" y="136" width="4" height="1" fill="#006400" />
<rect x="1390" y="137" width="2" height="1" fill="#006400" />
<rect x="1390" y="138" width="2" height="1" fill="#006400" />
<rect x="1372" y="155" width="32" height="16" fill="#006400" />
<rect x="1373" y="156" width="30" height="14" fill="#fff" />
<rect x="1375" y="158" width="26" height="10" fill="#006400" />
<rect x="1376" y="159" width="24" height="8" fill="#fff" />
<rect x="1373" y="157" width="9" height="12" fill="#90c890" />
<rect x="1375" y="158" width="7" height="1" fill="#006400" opacity="0.55"/>
<rect x="1375" y="167" width="7" height="1" fill="#006400" opacity="0.55"/>
<rect x="1375" y="158" width="1" height="10" fill="#006400" opacity="0.55"/>
<rect x="1376" y="160" width="1" height="6" fill="#000" />
<rect x="1377" y="161" width="1" height="4" fill="#000" />
<rect x="1378" y="162" width="1" height="2" fill="#000" />
<rect x="1382" y="160" width="6" height="1" fill="#006400" />
<rect x="1384" y="161" width="2" height="1" fill="#006400" />
<rect x="1384" y="162" width="2" height="1" fill="#006400" />
<rect x="1384" y="163" width="2" height="1" fill="#006400" />
<rect x="1384" y="164" width="2" height="1" fill="#006400" />
<rect x="1384" y="165" width="2" height="1" fill="#006400" />
<rect x="1390" y="160" width="5" height="1" fill="#006400" />
<rect x="1390" y="161" width="2" height="1" fill="#006400" />
<rect x="1390" y="162" width="2" height="1" fill="#006400" />
<rect x="1390" y="163" width="4" height="1" fill="#006400" />
<rect x="1390" y="164" width="2" height="1" fill="#006400" />
<rect x="1390" y="165" width="2" height="1" fill="#006400" />
<rect x="1372" y="183" width="32" height="16" fill="#006400" />
<rect x="1373" y="184" width="30" height="14" fill="#fff" />
<rect x="1375" y="186" width="26" height="10" fill="#006400" />
<rect x="1376" y="187" width="24" height="8" fill="#fff" />
<rect x="1373" y="185" width="9" height="12" fill="#90c890" />
<rect x="1375" y="186" width="7" height="1" fill="#006400" opacity="0.55"/>
<rect x="1375" y="195" width="7" height="1" fill="#006400" opacity="0.55"/>
<rect x="1375" y="186" width="1" height="10" fill="#006400" opacity="0.55"/>
<rect x="1376" y="188" width="1" height="6" fill="#000" />
<rect x="1377" y="189" width="1" height="4" fill="#000" />
<rect x="1378" y="190" width="1" height="2" fill="#000" />
<rect x="1382" y="188" width="6" height="1" fill="#006400" />
<rect x="1384" y="189" width="2" height="1" fill="#006400" />
<rect x="1384" y="190" width="2" height="1" fill="#006400" />
<rect x="1384" y="191" width="2" height="1" fill="#006400" />
<rect x="1384" y="192" width="2" height="1" fill="#006400" />
<rect x="1384" y="193" width="2" height="1" fill="#006400" />
<rect x="1390" y="188" width="5" height="1" fill="#006400" />
<rect x="1390" y="189" width="2" height="1" fill="#006400" />
<rect x="1390" y="190" width="2" height="1" fill="#006400" />
<rect x="1390" y="191" width="4" height="1" fill="#006400" />
<rect x="1390" y="192" width="2" height="1" fill="#006400" />
<rect x="1390" y="193" width="2" height="1" fill="#006400" />
<rect x="1374" y="539" width="32" height="16" fill="#006400" />
<rect x="1376" y="541" width="28" height="12" fill="#fff" />
<rect x="1377" y="542" width="26" height="10" fill="#006400" />
<rect x="1378" y="543" width="24" height="8" fill="#fff" />
<rect x="1396" y="542" width="8" height="10" fill="#90c890" />
<rect x="1401" y="544" width="1" height="6" fill="#000" />
<rect x="1402" y="545" width="1" height="4" fill="#000" />
<rect x="1403" y="546" width="1" height="2" fill="#000" />
<rect x="1385" y="544" width="6" height="1" fill="#006400" />
<rect x="1387" y="545" width="2" height="1" fill="#006400" />
<rect x="1387" y="546" width="2" height="1" fill="#006400" />
<rect x="1387" y="547" width="2" height="1" fill="#006400" />
<rect x="1387" y="548" width="2" height="1" fill="#006400" />
<rect x="1387" y="549" width="2" height="1" fill="#006400" />
<rect x="1392" y="544" width="5" height="1" fill="#006400" />
<rect x="1392" y="545" width="2" height="1" fill="#006400" />
<rect x="1392" y="546" width="2" height="1" fill="#006400" />
<rect x="1392" y="547" width="4" height="1" fill="#006400" />
<rect x="1392" y="548" width="2" height="1" fill="#006400" />
<rect x="1392" y="549" width="2" height="1" fill="#006400" />
<rect x="1167" y="129" width="16" height="14" fill="#006400" />
<rect x="1169" y="131" width="12" height="10" fill="#fff" />
<rect x="1170" y="132" width="10" height="8" fill="#006400" />
<rect x="1172" y="133" width="6" height="2" fill="#fff" />
<rect x="1174" y="133" width="2" height="6" fill="#fff" />
<rect x="1167" y="157" width="16" height="14" fill="#006400" />
<rect x="1169" y="159" width="12" height="10" fill="#fff" />
<rect x="1173" y="161" width="2" height="6" fill="#006400" />
<rect x="1173" y="161" width="5" height="2" fill="#006400" />
<rect x="1173" y="164" width="4" height="1" fill="#006400" />
<rect x="1167" y="184" width="16" height="14" fill="#006400" />
<rect x="1169" y="186" width="12" height="10" fill="#fff" />
<rect x="1173" y="188" width="2" height="6" fill="#006400" />
<rect x="1173" y="188" width="5" height="2" fill="#006400" />
<rect x="1173" y="191" width="4" height="1" fill="#006400" />
<rect x="840" y="277" width="16" height="14" fill="#006400" />
<rect x="842" y="279" width="12" height="10" fill="#fff" />
<rect x="846" y="281" width="2" height="6" fill="#006400" />
<rect x="846" y="281" width="5" height="2" fill="#006400" />
<rect x="846" y="284" width="4" height="1" fill="#006400" />
<rect x="983" y="277" width="16" height="14" fill="#006400" />
<rect x="985" y="279" width="12" height="10" fill="#fff" />
<rect x="989" y="281" width="2" height="6" fill="#006400" />
<rect x="989" y="281" width="5" height="2" fill="#006400" />
<rect x="989" y="284" width="4" height="1" fill="#006400" />
<rect x="1620" y="299" width="16" height="14" fill="#006400" />
<rect x="1622" y="301" width="12" height="10" fill="#fff" />
<rect x="1626" y="303" width="2" height="6" fill="#006400" />
<rect x="1626" y="303" width="5" height="2" fill="#006400" />
<rect x="1626" y="306" width="4" height="1" fill="#006400" />
<rect x="517" y="326" width="13" height="19" fill="#ff6600" />
<rect x="519" y="328" width="9" height="15" fill="#fff" />
<text x="523.3" y="340" font-size="12.5" fill="#000" text-anchor="middle" font-weight="normal" font-family="Liberation Sans" xml:space="preserve" >1</text>
<path d="M547.5,318.5 V338.5 L566.5,328.5 Z" fill="#ffffd8" stroke="#000" stroke-width="1" shape-rendering="auto"/>
<path d="M551,324 L557,327 L551,330 M551,332.5 L557,329.5" fill="none" stroke="#000" stroke-width="1.6" shape-rendering="auto"/>
<path d="M1428.5,535.5 H1439 Q1446,537 1450.3,543.2 Q1446,549.5 1439,550.5 H1428.5 Q1434.5,543 1428.500,535.5 Z" fill="#ffffd8" stroke="#000" stroke-width="1" shape-rendering="auto" />
<path d="M1435.2,540.3 l3.2,5.6 l3.2,-5.600" fill="none" stroke="#000" stroke-width="2" shape-rendering="auto" />
<rect x="1455" y="534" width="16" height="16" fill="#006400" />
<rect x="1456" y="535" width="14" height="14" fill="#ffffd8" />
<path d="M1468.73,544.37 L1465.37,547.73 L1460.63,547.73 L1457.27,544.37 L1457.27,539.63 L1460.63,536.27 L1465.37,536.27 L1468.73,539.63 Z" fill="#ffffd8" stroke="#000" stroke-width="1" shape-rendering="auto" />
<path d="M1466.97,543.65 L1464.65,545.97 L1461.35,545.97 L1459.03,543.65 L1459.03,540.35 L1461.35,538.03 L1464.65,538.03 L1466.97,540.35 Z" fill="#ff0000" stroke="none" stroke-width="1" shape-rendering="auto" />
<rect x="113" y="264" width="32" height="32" fill="#000" />
<rect x="114" y="276" width="30" height="19" fill="#fff" />
<rect x="120" y="267" width="1" height="5" fill="#66ff00" />
<rect x="120" y="271" width="3" height="1" fill="#66ff00" />
<rect x="125" y="267" width="1" height="5" fill="#66ff00" />
<rect x="128" y="267" width="1" height="5" fill="#66ff00" />
<rect x="131" y="267" width="1" height="5" fill="#66ff00" />
<rect x="129" y="268" width="1" height="1" fill="#66ff00" />
<rect x="130" y="269" width="1" height="1" fill="#66ff00" />
<rect x="134" y="267" width="1" height="1" fill="#66ff00" />
<rect x="136" y="267" width="1" height="1" fill="#66ff00" />
<rect x="134" y="268" width="1" height="1" fill="#66ff00" />
<rect x="136" y="268" width="1" height="1" fill="#66ff00" />
<rect x="135" y="269" width="1" height="1" fill="#66ff00" />
<rect x="134" y="270" width="1" height="1" fill="#66ff00" />
<rect x="136" y="270" width="1" height="1" fill="#66ff00" />
<rect x="134" y="271" width="1" height="1" fill="#66ff00" />
<rect x="136" y="271" width="1" height="1" fill="#66ff00" />
<g transform="translate(113,264)">
<path d="M4,16 L6.5,19.8 L10.5,19 L12.3,13.3 L14.6,18 L16,20.5 L20.4,24.2 L19,26.6 L16,28.5 L11,29.5 L6.8,28.5 L4.8,25.5 L5.2,21 Z" fill="#0aa00a" stroke="#0a4a0a" stroke-width="0.7" shape-rendering="auto" />
<path d="M4,16 L6.5,19.8 L5.4,21 Z M12.3,13.3 L13.2,18 L11.2,19 Z" fill="#0b5a0b" stroke="none" stroke-width="1" shape-rendering="auto" />
<path d="M7.5,21.5 q2,-1.5 4,0 q-1,2.5 -3,2 Z" fill="#12cc12" stroke="none" stroke-width="1" shape-rendering="auto" />
<path d="M8,26 l1.5,1.200 M11,24 l1.500,0.500 l1,-1 M9.500,28.300 l2.500,0.200" fill="none" stroke="#063806" stroke-width="1.1" shape-rendering="auto" />
<path d="M15.5,21.5 l3.800,3 l-1.500,1.800 Z" fill="#0cb40c" stroke="none" stroke-width="1" shape-rendering="auto" />
</g>
<rect x="138" y="277" width="1" height="9" fill="#ffff00" />
<rect x="133" y="282" width="9" height="1" fill="#ffff00" />
<rect x="137" y="277" width="1" height="9" fill="#000" />
<rect x="133" y="281" width="9" height="1" fill="#000" />
<rect x="137" y="281" width="2" height="2" fill="#ffff00" />
<rect x="134" y="278" width="1" height="1" fill="#000" />
<rect x="135" y="279" width="1" height="1" fill="#000" />
<rect x="140" y="278" width="1" height="1" fill="#000" />
<rect x="139" y="279" width="1" height="1" fill="#000" />
<rect x="134" y="284" width="1" height="1" fill="#000" />
<rect x="135" y="283" width="1" height="1" fill="#000" />
<rect x="140" y="284" width="1" height="1" fill="#000" />
<rect x="139" y="283" width="1" height="1" fill="#000" />
<rect x="201" y="264" width="32" height="32" fill="#000" />
<rect x="202" y="276" width="30" height="19" fill="#fff" />
<rect x="208" y="267" width="1" height="5" fill="#66ff00" />
<rect x="208" y="271" width="3" height="1" fill="#66ff00" />
<rect x="213" y="267" width="1" height="5" fill="#66ff00" />
<rect x="216" y="267" width="1" height="5" fill="#66ff00" />
<rect x="219" y="267" width="1" height="5" fill="#66ff00" />
<rect x="217" y="268" width="1" height="1" fill="#66ff00" />
<rect x="218" y="269" width="1" height="1" fill="#66ff00" />
<rect x="222" y="267" width="1" height="1" fill="#66ff00" />
<rect x="224" y="267" width="1" height="1" fill="#66ff00" />
<rect x="222" y="268" width="1" height="1" fill="#66ff00" />
<rect x="224" y="268" width="1" height="1" fill="#66ff00" />
<rect x="223" y="269" width="1" height="1" fill="#66ff00" />
<rect x="222" y="270" width="1" height="1" fill="#66ff00" />
<rect x="224" y="270" width="1" height="1" fill="#66ff00" />
<rect x="222" y="271" width="1" height="1" fill="#66ff00" />
<rect x="224" y="271" width="1" height="1" fill="#66ff00" />
<g transform="translate(201,264)">
<path d="M7.5,17.3 C2.3,17 2.3,23.5 6,23.5 L9,23.5 M14,23.5 C17.8,23.5 17.8,27.5 14,27.5 M9,27.5 L7,27.5" fill="none" stroke="#c00000" stroke-width="1.1" shape-rendering="auto" />
<path d="M9.5,13.2 h4 l2.2,2.2 v3.8 l-2.2,2.2 h-4 l-2.2,-2.2 v-3.8 Z" fill="#cccccc" stroke="#888888" stroke-width="0.9" shape-rendering="auto" />
</g>
<rect x="210" y="279" width="1" height="1" fill="#303030" />
<rect x="214" y="279" width="1" height="1" fill="#303030" />
<rect x="212" y="281" width="1" height="1" fill="#303030" />
<rect x="210" y="283" width="1" height="1" fill="#303030" />
<rect x="214" y="283" width="1" height="1" fill="#303030" />
<rect x="210" y="286" width="5" height="9" fill="#000" />
<rect x="211" y="289" width="3" height="2" fill="#c00000" />
<rect x="204" y="290" width="4" height="3" fill="#000" />
<rect x="225" y="278" width="1" height="9" fill="#ffff00" />
<rect x="220" y="283" width="9" height="1" fill="#ffff00" />
<rect x="224" y="278" width="1" height="9" fill="#000" />
<rect x="220" y="282" width="9" height="1" fill="#000" />
<rect x="224" y="282" width="2" height="2" fill="#ffff00" />
<rect x="221" y="279" width="1" height="1" fill="#000" />
<rect x="222" y="280" width="1" height="1" fill="#000" />
<rect x="227" y="279" width="1" height="1" fill="#000" />
<rect x="226" y="280" width="1" height="1" fill="#000" />
<rect x="221" y="285" width="1" height="1" fill="#000" />
<rect x="222" y="284" width="1" height="1" fill="#000" />
<rect x="227" y="285" width="1" height="1" fill="#000" />
<rect x="226" y="284" width="1" height="1" fill="#000" />
<rect x="304" y="264" width="32" height="32" fill="#000" />
<rect x="305" y="276" width="30" height="19" fill="#fff" />
<rect x="311" y="267" width="1" height="5" fill="#66ff00" />
<rect x="311" y="271" width="3" height="1" fill="#66ff00" />
<rect x="316" y="267" width="1" height="5" fill="#66ff00" />
<rect x="319" y="267" width="1" height="5" fill="#66ff00" />
<rect x="322" y="267" width="1" height="5" fill="#66ff00" />
<rect x="320" y="268" width="1" height="1" fill="#66ff00" />
<rect x="321" y="269" width="1" height="1" fill="#66ff00" />
<rect x="325" y="267" width="1" height="1" fill="#66ff00" />
<rect x="327" y="267" width="1" height="1" fill="#66ff00" />
<rect x="325" y="268" width="1" height="1" fill="#66ff00" />
<rect x="327" y="268" width="1" height="1" fill="#66ff00" />
<rect x="326" y="269" width="1" height="1" fill="#66ff00" />
<rect x="325" y="270" width="1" height="1" fill="#66ff00" />
<rect x="327" y="270" width="1" height="1" fill="#66ff00" />
<rect x="325" y="271" width="1" height="1" fill="#66ff00" />
<rect x="327" y="271" width="1" height="1" fill="#66ff00" />
<rect x="306" y="277" width="1" height="1" fill="#000" />
<rect x="307" y="277" width="1" height="1" fill="#000" />
<rect x="308" y="277" width="1" height="1" fill="#000" />
<rect x="307" y="278" width="1" height="1" fill="#000" />
<rect x="307" y="279" width="1" height="1" fill="#000" />
<rect x="307" y="280" width="1" height="1" fill="#000" />
<rect x="307" y="281" width="1" height="1" fill="#000" />
<rect x="310" y="277" width="1" height="1" fill="#000" />
<rect x="310" y="278" width="1" height="1" fill="#000" />
<rect x="310" y="279" width="1" height="1" fill="#000" />
<rect x="310" y="280" width="1" height="1" fill="#000" />
<rect x="310" y="281" width="1" height="1" fill="#000" />
<rect x="314" y="277" width="1" height="1" fill="#000" />
<rect x="314" y="278" width="1" height="1" fill="#000" />
<rect x="314" y="279" width="1" height="1" fill="#000" />
<rect x="314" y="280" width="1" height="1" fill="#000" />
<rect x="314" y="281" width="1" height="1" fill="#000" />
<rect x="311" y="278" width="1" height="1" fill="#000" />
<rect x="313" y="278" width="1" height="1" fill="#000" />
<rect x="312" y="279" width="1" height="1" fill="#000" />
<rect x="316" y="277" width="1" height="1" fill="#000" />
<rect x="316" y="278" width="1" height="1" fill="#000" />
<rect x="316" y="279" width="1" height="1" fill="#000" />
<rect x="316" y="280" width="1" height="1" fill="#000" />
<rect x="316" y="281" width="1" height="1" fill="#000" />
<rect x="317" y="277" width="1" height="1" fill="#000" />
<rect x="318" y="277" width="1" height="1" fill="#000" />
<rect x="319" y="278" width="1" height="1" fill="#000" />
<rect x="317" y="279" width="1" height="1" fill="#000" />
<rect x="318" y="279" width="1" height="1" fill="#000" />
<rect x="307" y="283" width="1" height="1" fill="#000" />
<rect x="308" y="283" width="1" height="1" fill="#000" />
<rect x="309" y="284" width="1" height="1" fill="#000" />
<rect x="308" y="285" width="1" height="1" fill="#000" />
<rect x="309" y="286" width="1" height="1" fill="#000" />
<rect x="307" y="287" width="1" height="1" fill="#000" />
<rect x="308" y="287" width="1" height="1" fill="#000" />
<rect x="312" y="283" width="1" height="1" fill="#000" />
<rect x="311" y="284" width="1" height="1" fill="#000" />
<rect x="311" y="285" width="1" height="1" fill="#000" />
<rect x="312" y="285" width="1" height="1" fill="#000" />
<rect x="311" y="286" width="1" height="1" fill="#000" />
<rect x="313" y="286" width="1" height="1" fill="#000" />
<rect x="312" y="287" width="1" height="1" fill="#000" />
<g transform="translate(304,264)">
<path d="M13,21 q0,-2 3.5,-2 q3.5,0 3.5,2 v7 h-7 Z" fill="#000" stroke="none" stroke-width="1" shape-rendering="auto" />
<path d="M14.3,20.8 q2.200,-1.500 4.400,0 q-2.200,1.500 -4.400,0 Z" fill="#808080" stroke="none" stroke-width="1" shape-rendering="auto" />
<path d="M13.5,28 l-1.5,3 M16.5,28 v3 M19.5,28 l1.500,3" fill="none" stroke="#000" stroke-width="1" shape-rendering="auto" />
<path d="M25.5,16.5 q0,-1.5 1.5,-1.5 q1.5,0 1.5,1.5 v8 q1.5,1 1.5,2.7 q0,2.6 -3,2.6 q-3,0 -3,-2.6 q0,-1.7 1.500,-2.7 Z" fill="#fff" stroke="#000" stroke-width="0.9" shape-rendering="auto" />
<path d="M26.2,21 h1.6 v4 q1.4,0.8 1.4,2.3 q0,1.9 -2.2,1.9 q-2.2,0 -2.2,-1.900 q0,-1.5 1.400,-2.3 Z" fill="#ff0000" stroke="none" stroke-width="1" shape-rendering="auto" />
</g>
<rect x="392" y="266" width="32" height="32" fill="#000" />
<rect x="393" y="278" width="30" height="19" fill="#fff" />
<rect x="399" y="269" width="1" height="5" fill="#66ff00" />
<rect x="399" y="273" width="3" height="1" fill="#66ff00" />
<rect x="404" y="269" width="1" height="5" fill="#66ff00" />
<rect x="407" y="269" width="1" height="5" fill="#66ff00" />
<rect x="410" y="269" width="1" height="5" fill="#66ff00" />
<rect x="408" y="270" width="1" height="1" fill="#66ff00" />
<rect x="409" y="271" width="1" height="1" fill="#66ff00" />
<rect x="413" y="269" width="1" height="1" fill="#66ff00" />
<rect x="415" y="269" width="1" height="1" fill="#66ff00" />
<rect x="413" y="270" width="1" height="1" fill="#66ff00" />
<rect x="415" y="270" width="1" height="1" fill="#66ff00" />
<rect x="414" y="271" width="1" height="1" fill="#66ff00" />
<rect x="413" y="272" width="1" height="1" fill="#66ff00" />
<rect x="415" y="272" width="1" height="1" fill="#66ff00" />
<rect x="413" y="273" width="1" height="1" fill="#66ff00" />
<rect x="415" y="273" width="1" height="1" fill="#66ff00" />
<g transform="translate(392,266)">
<path d="M3.2,21.5 L7,16.8 L9.5,16.8 L13,21.8" fill="none" stroke="#0000ff" stroke-width="1.6" shape-rendering="auto" />
<path d="M16,20.300 l1.800,-1.300" fill="none" stroke="#0000ff" stroke-width="1.4" shape-rendering="auto" />
<path d="M18.500,16 l1.600,-2.600 l1.400,1.600 M21,17 h2.200 M25.600,16 l3,-3 l0.600,1.500" fill="none" stroke="#000" stroke-width="0.9" shape-rendering="auto" />
<path d="M18.200,16.200 h2.600 v2.400 h-2.600 Z M23.200,16.200 h2.600 v2.400 h-2.600 Z" fill="#20e0ff" stroke="#000" stroke-width="0.8" shape-rendering="auto" />
<path d="M13.5,25 v2.500 q0,1 1,1 h4.500 M17,26.400 l2.400,2.100 l-2.400,2.100" fill="none" stroke="#000" stroke-width="1.1" shape-rendering="auto" />
</g>
<rect x="405" y="288" width="2" height="2" fill="#0000ff" />
<rect x="899" y="264" width="32" height="32" fill="#000" />
<rect x="900" y="276" width="30" height="19" fill="#fff" />
<rect x="906" y="267" width="1" height="5" fill="#66ff00" />
<rect x="906" y="271" width="3" height="1" fill="#66ff00" />
<rect x="911" y="267" width="1" height="5" fill="#66ff00" />
<rect x="914" y="267" width="1" height="5" fill="#66ff00" />
<rect x="917" y="267" width="1" height="5" fill="#66ff00" />
<rect x="915" y="268" width="1" height="1" fill="#66ff00" />
<rect x="916" y="269" width="1" height="1" fill="#66ff00" />
<rect x="920" y="267" width="1" height="1" fill="#66ff00" />
<rect x="922" y="267" width="1" height="1" fill="#66ff00" />
<rect x="920" y="268" width="1" height="1" fill="#66ff00" />
<rect x="922" y="268" width="1" height="1" fill="#66ff00" />
<rect x="921" y="269" width="1" height="1" fill="#66ff00" />
<rect x="920" y="270" width="1" height="1" fill="#66ff00" />
<rect x="922" y="270" width="1" height="1" fill="#66ff00" />
<rect x="920" y="271" width="1" height="1" fill="#66ff00" />
<rect x="922" y="271" width="1" height="1" fill="#66ff00" />
<rect x="902" y="285" width="3" height="1" fill="#0000ff" />
<rect x="904" y="280" width="1" height="6" fill="#0000ff" />
<rect x="904" y="280" width="5" height="1" fill="#0000ff" />
<rect x="908" y="280" width="1" height="6" fill="#0000ff" />
<rect x="910" y="284" width="2" height="2" fill="#0000ff" />
<rect x="913" y="280" width="1" height="6" fill="#0000ff" />
<rect x="913" y="280" width="4" height="1" fill="#0000ff" />
<g transform="translate(899,264)">
<path d="M19.5,22.5 l1.2,-3.2 l6.8,-6.8 l2.2,2.2 l-6.8,6.8 Z" fill="#e8d800" stroke="#000" stroke-width="1" shape-rendering="auto" />
<path d="M19.5,22.5 l1.2,-3.2 l2,2 Z" fill="#000" stroke="none" stroke-width="1" shape-rendering="auto" />
<path d="M25.8,14.2 l1.7,-1.7 l2.2,2.2 l-1.7,1.7 Z" fill="#999" stroke="#333" stroke-width="0.6" shape-rendering="auto" />
<path d="M27.3,12.7 l1,-1 q2,-0.3 2.2,2.2 l-1,1 Z" fill="#ff2020" stroke="none" stroke-width="1" shape-rendering="auto" />
<path d="M22.0,20.5 l5,-5 M23.3,21.3 l5,-5" fill="none" stroke="#806000" stroke-width="0.6" shape-rendering="auto" />
</g>
<g transform="translate(899,264)">
<path d="M6,29.5 h4 v-4.5 M7.8,26.8 l2.2,-2.6 l2.2,2.6" fill="none" stroke="#000" stroke-width="1.1" shape-rendering="auto" />
<path d="M15.5,23.5 v3 q0,1 1,1 h5 M19.2,25.2 l2.6,2.3 l-2.6,2.3" fill="none" stroke="#000" stroke-width="1.1" shape-rendering="auto" />
</g>
<rect x="1036" y="264" width="32" height="32" fill="#000" />
<rect x="1037" y="276" width="30" height="19" fill="#fff" />
<rect x="1043" y="267" width="1" height="5" fill="#66ff00" />
<rect x="1043" y="271" width="3" height="1" fill="#66ff00" />
<rect x="1048" y="267" width="1" height="5" fill="#66ff00" />
<rect x="1051" y="267" width="1" height="5" fill="#66ff00" />
<rect x="1054" y="267" width="1" height="5" fill="#66ff00" />
<rect x="1052" y="268" width="1" height="1" fill="#66ff00" />
<rect x="1053" y="269" width="1" height="1" fill="#66ff00" />
<rect x="1057" y="267" width="1" height="1" fill="#66ff00" />
<rect x="1059" y="267" width="1" height="1" fill="#66ff00" />
<rect x="1057" y="268" width="1" height="1" fill="#66ff00" />
<rect x="1059" y="268" width="1" height="1" fill="#66ff00" />
<rect x="1058" y="269" width="1" height="1" fill="#66ff00" />
<rect x="1057" y="270" width="1" height="1" fill="#66ff00" />
<rect x="1059" y="270" width="1" height="1" fill="#66ff00" />
<rect x="1057" y="271" width="1" height="1" fill="#66ff00" />
<rect x="1059" y="271" width="1" height="1" fill="#66ff00" />
<rect x="1039" y="285" width="3" height="1" fill="#0000ff" />
<rect x="1041" y="280" width="1" height="6" fill="#0000ff" />
<rect x="1041" y="280" width="5" height="1" fill="#0000ff" />
<rect x="1045" y="280" width="1" height="6" fill="#0000ff" />
<rect x="1047" y="284" width="2" height="2" fill="#0000ff" />
<rect x="1050" y="280" width="1" height="6" fill="#0000ff" />
<rect x="1050" y="280" width="4" height="1" fill="#0000ff" />
<g transform="translate(1036,264)">
<path d="M19.5,22.5 l1.2,-3.2 l6.8,-6.8 l2.2,2.2 l-6.8,6.8 Z" fill="#e8d800" stroke="#000" stroke-width="1" shape-rendering="auto" />
<path d="M19.5,22.5 l1.2,-3.2 l2,2 Z" fill="#000" stroke="none" stroke-width="1" shape-rendering="auto" />
<path d="M25.8,14.2 l1.7,-1.7 l2.2,2.2 l-1.7,1.7 Z" fill="#999" stroke="#333" stroke-width="0.6" shape-rendering="auto" />
<path d="M27.3,12.7 l1,-1 q2,-0.3 2.2,2.2 l-1,1 Z" fill="#ff2020" stroke="none" stroke-width="1" shape-rendering="auto" />
<path d="M22.0,20.5 l5,-5 M23.3,21.3 l5,-5" fill="none" stroke="#806000" stroke-width="0.6" shape-rendering="auto" />
</g>
<g transform="translate(1036,264)">
<path d="M6,29.5 h4 v-4.5 M7.8,26.8 l2.2,-2.6 l2.2,2.6" fill="none" stroke="#000" stroke-width="1.1" shape-rendering="auto" />
<path d="M15.5,23.5 v3 q0,1 1,1 h5 M19.2,25.2 l2.6,2.3 l-2.6,2.3" fill="none" stroke="#000" stroke-width="1.1" shape-rendering="auto" />
</g>
<rect x="1138" y="264" width="32" height="32" fill="#000" />
<rect x="1139" y="276" width="30" height="19" fill="#fff" />
<rect x="1145" y="267" width="1" height="5" fill="#66ff00" />
<rect x="1145" y="271" width="3" height="1" fill="#66ff00" />
<rect x="1150" y="267" width="1" height="5" fill="#66ff00" />
<rect x="1153" y="267" width="1" height="5" fill="#66ff00" />
<rect x="1156" y="267" width="1" height="5" fill="#66ff00" />
<rect x="1154" y="268" width="1" height="1" fill="#66ff00" />
<rect x="1155" y="269" width="1" height="1" fill="#66ff00" />
<rect x="1159" y="267" width="1" height="1" fill="#66ff00" />
<rect x="1161" y="267" width="1" height="1" fill="#66ff00" />
<rect x="1159" y="268" width="1" height="1" fill="#66ff00" />
<rect x="1161" y="268" width="1" height="1" fill="#66ff00" />
<rect x="1160" y="269" width="1" height="1" fill="#66ff00" />
<rect x="1159" y="270" width="1" height="1" fill="#66ff00" />
<rect x="1161" y="270" width="1" height="1" fill="#66ff00" />
<rect x="1159" y="271" width="1" height="1" fill="#66ff00" />
<rect x="1161" y="271" width="1" height="1" fill="#66ff00" />
<g transform="translate(1138,264)">
<path d="M7.5,17.3 C2.3,17 2.3,23.5 6,23.5 L9,23.5 M14,23.5 C17.8,23.5 17.8,27.5 14,27.5 M9,27.5 L7,27.5" fill="none" stroke="#c00000" stroke-width="1.1" shape-rendering="auto" />
<path d="M9.5,13.2 h4 l2.2,2.2 v3.8 l-2.2,2.2 h-4 l-2.2,-2.2 v-3.8 Z" fill="#cccccc" stroke="#888888" stroke-width="0.9" shape-rendering="auto" />
</g>
<rect x="1147" y="279" width="1" height="1" fill="#303030" />
<rect x="1151" y="279" width="1" height="1" fill="#303030" />
<rect x="1149" y="281" width="1" height="1" fill="#303030" />
<rect x="1147" y="283" width="1" height="1" fill="#303030" />
<rect x="1151" y="283" width="1" height="1" fill="#303030" />
<rect x="1147" y="286" width="5" height="9" fill="#000" />
<rect x="1148" y="289" width="3" height="2" fill="#c00000" />
<rect x="1141" y="290" width="4" height="3" fill="#000" />
<g transform="translate(1138,264)">
<path d="M19.5,23 l1.2,-3.2 l6.8,-6.8 l2.2,2.2 l-6.8,6.8 Z" fill="#e8d800" stroke="#000" stroke-width="1" shape-rendering="auto" />
<path d="M19.5,23 l1.2,-3.2 l2,2 Z" fill="#000" stroke="none" stroke-width="1" shape-rendering="auto" />
<path d="M25.8,14.7 l1.7,-1.7 l2.2,2.2 l-1.7,1.7 Z" fill="#999" stroke="#333" stroke-width="0.6" shape-rendering="auto" />
<path d="M27.3,13.2 l1,-1 q2,-0.3 2.2,2.2 l-1,1 Z" fill="#ff2020" stroke="none" stroke-width="1" shape-rendering="auto" />
<path d="M22.0,21 l5,-5 M23.3,21.8 l5,-5" fill="none" stroke="#806000" stroke-width="0.6" shape-rendering="auto" />
</g>
<rect x="1157" y="293" width="3" height="1" fill="#0000ff" />
<rect x="1159" y="289" width="1" height="5" fill="#0000ff" />
<rect x="1159" y="289" width="7" height="1" fill="#0000ff" />
<rect x="1165" y="289" width="1" height="5" fill="#0000ff" />
<rect x="1165" y="293" width="3" height="1" fill="#0000ff" />
<rect x="1520" y="265" width="32" height="32" fill="#000" />
<rect x="1521" y="277" width="30" height="19" fill="#fff" />
<rect x="1527" y="268" width="1" height="5" fill="#66ff00" />
<rect x="1527" y="272" width="3" height="1" fill="#66ff00" />
<rect x="1532" y="268" width="1" height="5" fill="#66ff00" />
<rect x="1535" y="268" width="1" height="5" fill="#66ff00" />
<rect x="1538" y="268" width="1" height="5" fill="#66ff00" />
<rect x="1536" y="269" width="1" height="1" fill="#66ff00" />
<rect x="1537" y="270" width="1" height="1" fill="#66ff00" />
<rect x="1541" y="268" width="1" height="1" fill="#66ff00" />
<rect x="1543" y="268" width="1" height="1" fill="#66ff00" />
<rect x="1541" y="269" width="1" height="1" fill="#66ff00" />
<rect x="1543" y="269" width="1" height="1" fill="#66ff00" />
<rect x="1542" y="270" width="1" height="1" fill="#66ff00" />
<rect x="1541" y="271" width="1" height="1" fill="#66ff00" />
<rect x="1543" y="271" width="1" height="1" fill="#66ff00" />
<rect x="1541" y="272" width="1" height="1" fill="#66ff00" />
<rect x="1543" y="272" width="1" height="1" fill="#66ff00" />
<g transform="translate(1520,265)">
<path d="M7.5,17.3 C2.3,17 2.3,23.5 6,23.5 L9,23.5 M14,23.5 C17.8,23.5 17.8,27.5 14,27.5 M9,27.5 L7,27.5" fill="none" stroke="#c00000" stroke-width="1.1" shape-rendering="auto" />
<path d="M9.5,13.2 h4 l2.2,2.2 v3.8 l-2.2,2.2 h-4 l-2.2,-2.2 v-3.8 Z" fill="#cccccc" stroke="#888888" stroke-width="0.9" shape-rendering="auto" />
</g>
<rect x="1529" y="280" width="1" height="1" fill="#303030" />
<rect x="1533" y="280" width="1" height="1" fill="#303030" />
<rect x="1531" y="282" width="1" height="1" fill="#303030" />
<rect x="1529" y="284" width="1" height="1" fill="#303030" />
<rect x="1533" y="284" width="1" height="1" fill="#303030" />
<rect x="1529" y="287" width="5" height="9" fill="#000" />
<rect x="1530" y="290" width="3" height="2" fill="#c00000" />
<rect x="1523" y="291" width="4" height="3" fill="#000" />
<g transform="translate(1520,265)">
<path d="M20.5,15.5 l6.5,6 M27.0,15.5 l-6.5,6" fill="none" stroke="#ff0000" stroke-width="1.8" shape-rendering="auto" />
</g>
<rect x="1726" y="265" width="32" height="32" fill="#000" />
<rect x="1727" y="277" width="30" height="19" fill="#fff" />
<rect x="1733" y="268" width="1" height="5" fill="#66ff00" />
<rect x="1733" y="272" width="3" height="1" fill="#66ff00" />
<rect x="1738" y="268" width="1" height="5" fill="#66ff00" />
<rect x="1741" y="268" width="1" height="5" fill="#66ff00" />
<rect x="1744" y="268" width="1" height="5" fill="#66ff00" />
<rect x="1742" y="269" width="1" height="1" fill="#66ff00" />
<rect x="1743" y="270" width="1" height="1" fill="#66ff00" />
<rect x="1747" y="268" width="1" height="1" fill="#66ff00" />
<rect x="1749" y="268" width="1" height="1" fill="#66ff00" />
<rect x="1747" y="269" width="1" height="1" fill="#66ff00" />
<rect x="1749" y="269" width="1" height="1" fill="#66ff00" />
<rect x="1748" y="270" width="1" height="1" fill="#66ff00" />
<rect x="1747" y="271" width="1" height="1" fill="#66ff00" />
<rect x="1749" y="271" width="1" height="1" fill="#66ff00" />
<rect x="1747" y="272" width="1" height="1" fill="#66ff00" />
<rect x="1749" y="272" width="1" height="1" fill="#66ff00" />
<g transform="translate(1726,265)">
<path d="M4,16 L6.5,19.8 L10.5,19 L12.3,13.3 L14.6,18 L16,20.5 L20.4,24.2 L19,26.6 L16,28.5 L11,29.5 L6.8,28.5 L4.8,25.5 L5.2,21 Z" fill="#0aa00a" stroke="#0a4a0a" stroke-width="0.7" shape-rendering="auto" />
<path d="M4,16 L6.5,19.8 L5.4,21 Z M12.3,13.3 L13.2,18 L11.2,19 Z" fill="#0b5a0b" stroke="none" stroke-width="1" shape-rendering="auto" />
<path d="M7.5,21.5 q2,-1.5 4,0 q-1,2.5 -3,2 Z" fill="#12cc12" stroke="none" stroke-width="1" shape-rendering="auto" />
<path d="M8,26 l1.5,1.200 M11,24 l1.500,0.500 l1,-1 M9.500,28.300 l2.500,0.200" fill="none" stroke="#063806" stroke-width="1.1" shape-rendering="auto" />
<path d="M15.5,21.5 l3.800,3 l-1.500,1.800 Z" fill="#0cb40c" stroke="none" stroke-width="1" shape-rendering="auto" />
</g>
<g transform="translate(1726,265)">
<path d="M21.3,14.3 l6.5,6 M27.8,14.3 l-6.5,6" fill="none" stroke="#ff0000" stroke-width="1.8" shape-rendering="auto" />
</g>
<rect x="293" y="37" width="32" height="32" fill="#000" />
<rect x="294" y="49" width="30" height="19" fill="#fff" />
<rect x="300" y="40" width="1" height="5" fill="#66ff00" />
<rect x="300" y="44" width="3" height="1" fill="#66ff00" />
<rect x="305" y="40" width="1" height="5" fill="#66ff00" />
<rect x="308" y="40" width="1" height="5" fill="#66ff00" />
<rect x="311" y="40" width="1" height="5" fill="#66ff00" />
<rect x="309" y="41" width="1" height="1" fill="#66ff00" />
<rect x="310" y="42" width="1" height="1" fill="#66ff00" />
<rect x="314" y="40" width="1" height="1" fill="#66ff00" />
<rect x="316" y="40" width="1" height="1" fill="#66ff00" />
<rect x="314" y="41" width="1" height="1" fill="#66ff00" />
<rect x="316" y="41" width="1" height="1" fill="#66ff00" />
<rect x="315" y="42" width="1" height="1" fill="#66ff00" />
<rect x="314" y="43" width="1" height="1" fill="#66ff00" />
<rect x="316" y="43" width="1" height="1" fill="#66ff00" />
<rect x="314" y="44" width="1" height="1" fill="#66ff00" />
<rect x="316" y="44" width="1" height="1" fill="#66ff00" />
<g transform="translate(293,37)">
<path d="M5.300,19.500 a5.200,5.200 0 1,0 10.400,0 a5.200,5.200 0 1,0 -10.400,0 Z" fill="#fff" stroke="#000" stroke-width="1" shape-rendering="auto" />
<path d="M10.500,16 v3.500 h2" fill="none" stroke="#000" stroke-width="1" shape-rendering="auto" />
<path d="M16.300,27.300 h6.400 l-3.200,-7 Z" fill="none" stroke="#0000ff" stroke-width="1.1" shape-rendering="auto" />
<path d="M25.500,19.500 v6.500 q0,1.300 1.300,1.300 h1 M24,22 h4" fill="none" stroke="#0000ff" stroke-width="1.1" shape-rendering="auto" />
</g>
<rect x="176" y="298" width="87" height="19" fill="#a000a0" />
<rect x="177" y="299" width="85" height="17" fill="#fff" />
<rect x="174" y="296" width="87" height="19" fill="#a000a0" />
<rect x="175" y="297" width="85" height="17" fill="#fff" />
<text x="177.5" y="309.5" font-size="12.5" fill="#000" text-anchor="start" font-weight="normal" font-family="Liberation Sans" textLength="68" lengthAdjust="spacingAndGlyphs" xml:space="preserve" >One Channel</text>
<path d="M251,303 h7 l-3.5,4 Z" fill="#800080" shape-rendering="auto"/>
<rect x="295" y="298" width="55" height="19" fill="#a000a0" />
<rect x="296" y="299" width="53" height="17" fill="#fff" />
<rect x="293" y="296" width="55" height="19" fill="#a000a0" />
<rect x="294" y="297" width="53" height="17" fill="#fff" />
<text x="297.5" y="309.5" font-size="12.5" fill="#000" text-anchor="start" font-weight="normal" font-family="Liberation Sans" textLength="35.5" lengthAdjust="spacingAndGlyphs" xml:space="preserve" >TMP36</text>
<path d="M338,303 h7 l-3.5,4 Z" fill="#800080" shape-rendering="auto"/>
<rect x="369" y="300" width="85" height="34" fill="#a000a0" />
<rect x="370" y="301" width="83" height="32" fill="#fff" />
<rect x="367" y="298" width="85" height="34" fill="#a000a0" />
<rect x="368" y="299" width="83" height="32" fill="#fff" />
<text x="370" y="311.5" font-size="12.5" fill="#000" text-anchor="start" font-weight="normal" font-family="Liberation Sans" textLength="65.5" lengthAdjust="spacingAndGlyphs" xml:space="preserve" >Analog Read</text>
<text x="385" y="326.5" font-size="12.5" fill="#000" text-anchor="start" font-weight="normal" font-family="Liberation Sans" textLength="35.5" lengthAdjust="spacingAndGlyphs" xml:space="preserve" >1 Chan</text>
<path d="M441,313.5 h7 l-3.5,4 Z" fill="#800080" shape-rendering="auto"/>
<rect x="876" y="298" width="83" height="34" fill="#a000a0" />
<rect x="877" y="299" width="81" height="32" fill="#fff" />
<rect x="874" y="296" width="83" height="34" fill="#a000a0" />
<rect x="875" y="297" width="81" height="32" fill="#fff" />
<text x="877.5" y="309.5" font-size="12.5" fill="#000" text-anchor="start" font-weight="normal" font-family="Liberation Sans" textLength="65" lengthAdjust="spacingAndGlyphs" xml:space="preserve" >Digital Write</text>
<text x="891.5" y="324.5" font-size="12.5" fill="#000" text-anchor="start" font-weight="normal" font-family="Liberation Sans" textLength="36" lengthAdjust="spacingAndGlyphs" xml:space="preserve" >1 Chan</text>
<path d="M947,311 h7 l-3.5,4 Z" fill="#800080" shape-rendering="auto"/>
<rect x="1013" y="298" width="83" height="34" fill="#a000a0" />
<rect x="1014" y="299" width="81" height="32" fill="#fff" />
<rect x="1011" y="296" width="83" height="34" fill="#a000a0" />
<rect x="1012" y="297" width="81" height="32" fill="#fff" />
<text x="1014.5" y="309.5" font-size="12.5" fill="#000" text-anchor="start" font-weight="normal" font-family="Liberation Sans" textLength="65" lengthAdjust="spacingAndGlyphs" xml:space="preserve" >Digital Write</text>
<text x="1028.5" y="324.5" font-size="12.5" fill="#000" text-anchor="start" font-weight="normal" font-family="Liberation Sans" textLength="36" lengthAdjust="spacingAndGlyphs" xml:space="preserve" >1 Chan</text>
<path d="M1084,311 h7 l-3.5,4 Z" fill="#800080" shape-rendering="auto"/>
<rect x="1113" y="298" width="87" height="19" fill="#a000a0" />
<rect x="1114" y="299" width="85" height="17" fill="#fff" />
<rect x="1111" y="296" width="87" height="19" fill="#a000a0" />
<rect x="1112" y="297" width="85" height="17" fill="#fff" />
<text x="1114.5" y="309.5" font-size="12.5" fill="#000" text-anchor="start" font-weight="normal" font-family="Liberation Sans" textLength="68" lengthAdjust="spacingAndGlyphs" xml:space="preserve" >One Channel</text>
<path d="M1188,303 h7 l-3.5,4 Z" fill="#800080" shape-rendering="auto"/>
<rect x="1495" y="299" width="87" height="19" fill="#a000a0" />
<rect x="1496" y="300" width="85" height="17" fill="#fff" />
<rect x="1493" y="297" width="87" height="19" fill="#a000a0" />
<rect x="1494" y="298" width="85" height="17" fill="#fff" />
<text x="1496.5" y="310.5" font-size="12.5" fill="#000" text-anchor="start" font-weight="normal" font-family="Liberation Sans" textLength="68" lengthAdjust="spacingAndGlyphs" xml:space="preserve" >One Channel</text>
<path d="M1570,304.5 h7 l-3.5,4 Z" fill="#800080" shape-rendering="auto"/>
<rect x="1644" y="289" width="38" height="27" fill="#000" />
<rect x="1645" y="290" width="36" height="8" fill="#ffffc8" />
<rect x="1645" y="299" width="36" height="16" fill="#fff" />
<rect x="1656" y="290" width="14" height="8" fill="#fff" />
<rect x="1657" y="291" width="12" height="5" fill="#006400" />
<text x="1647" y="297" font-size="8" fill="#000" text-anchor="start" font-weight="bold" font-family="Liberation Sans" xml:space="preserve" >?!</text>
<text x="1673" y="297" font-size="8" fill="#000" text-anchor="start" font-weight="bold" font-family="Liberation Sans" xml:space="preserve" >?!</text>
<path d="M1646,302.5 l3.5,3.5 l-3.5,3.5 Z" fill="#000" shape-rendering="auto"/>
<text x="1650" y="310.7" font-size="12.5" fill="#0a7a3a" text-anchor="start" font-weight="normal" font-family="Liberation Sans" textLength="29" lengthAdjust="spacingAndGlyphs" xml:space="preserve" >Value</text>
<rect x="1768" y="265" width="32" height="32" fill="#000" />
<rect x="1769" y="266" width="31" height="30" fill="#fff" />
<rect x="1775" y="267" width="17" height="1" fill="#000" />
<rect x="1773" y="268" width="2" height="1" fill="#000" />
<rect x="1792" y="268" width="2" height="1" fill="#000" />
<rect x="1772" y="269" width="1" height="1" fill="#000" />
<rect x="1794" y="269" width="1" height="1" fill="#000" />
<rect x="1771" y="270" width="1" height="2" fill="#000" />
<rect x="1795" y="270" width="1" height="1" fill="#000" />
<rect x="1796" y="271" width="1" height="1" fill="#000" />
<rect x="1770" y="272" width="1" height="12" fill="#000" />
<rect x="1797" y="272" width="1" height="11" fill="#000" />
<rect x="1771" y="284" width="1" height="2" fill="#000" />
<rect x="1796" y="283" width="1" height="2" fill="#000" />
<rect x="1772" y="286" width="1" height="1" fill="#000" />
<rect x="1795" y="285" width="1" height="1" fill="#000" />
<rect x="1773" y="287" width="2" height="1" fill="#000" />
<rect x="1794" y="286" width="1" height="1" fill="#000" />
<rect x="1775" y="288" width="5" height="1" fill="#000" />
<rect x="1792" y="287" width="2" height="1" fill="#000" />
<rect x="1786" y="288" width="6" height="1" fill="#000" />
<rect x="1778" y="289" width="1" height="1" fill="#000" />
<rect x="1777" y="290" width="1" height="1" fill="#000" />
<rect x="1776" y="291" width="1" height="1" fill="#000" />
<rect x="1775" y="292" width="1" height="1" fill="#000" />
<rect x="1774" y="293" width="1" height="1" fill="#000" />
<rect x="1773" y="294" width="5" height="1" fill="#000" />
<rect x="1778" y="293" width="2" height="1" fill="#000" />
<rect x="1780" y="292" width="2" height="1" fill="#000" />
<rect x="1782" y="291" width="2" height="1" fill="#000" />
<rect x="1784" y="290" width="1" height="1" fill="#000" />
<rect x="1785" y="289" width="1" height="1" fill="#000" />
<rect x="1773" y="271" width="1" height="1" fill="#000" />
<rect x="1774" y="271" width="1" height="1" fill="#000" />
<rect x="1775" y="271" width="1" height="1" fill="#000" />
<rect x="1773" y="272" width="1" height="1" fill="#000" />
<rect x="1773" y="273" width="1" height="1" fill="#000" />
<rect x="1774" y="273" width="1" height="1" fill="#000" />
<rect x="1773" y="274" width="1" height="1" fill="#000" />
<rect x="1773" y="275" width="1" height="1" fill="#000" />
<rect x="1773" y="276" width="1" height="1" fill="#000" />
<rect x="1774" y="276" width="1" height="1" fill="#000" />
<rect x="1775" y="276" width="1" height="1" fill="#000" />
<rect x="1777" y="273" width="1" height="1" fill="#000" />
<rect x="1779" y="273" width="1" height="1" fill="#000" />
<rect x="1780" y="273" width="1" height="1" fill="#000" />
<rect x="1777" y="274" width="1" height="1" fill="#000" />
<rect x="1778" y="274" width="1" height="1" fill="#000" />
<rect x="1777" y="275" width="1" height="1" fill="#000" />
<rect x="1777" y="276" width="1" height="1" fill="#000" />
<rect x="1782" y="273" width="1" height="1" fill="#000" />
<rect x="1784" y="273" width="1" height="1" fill="#000" />
<rect x="1785" y="273" width="1" height="1" fill="#000" />
<rect x="1782" y="274" width="1" height="1" fill="#000" />
<rect x="1783" y="274" width="1" height="1" fill="#000" />
<rect x="1782" y="275" width="1" height="1" fill="#000" />
<rect x="1782" y="276" width="1" height="1" fill="#000" />
<rect x="1788" y="273" width="1" height="1" fill="#000" />
<rect x="1789" y="273" width="1" height="1" fill="#000" />
<rect x="1787" y="274" width="1" height="1" fill="#000" />
<rect x="1790" y="274" width="1" height="1" fill="#000" />
<rect x="1787" y="275" width="1" height="1" fill="#000" />
<rect x="1790" y="275" width="1" height="1" fill="#000" />
<rect x="1788" y="276" width="1" height="1" fill="#000" />
<rect x="1789" y="276" width="1" height="1" fill="#000" />
<rect x="1792" y="273" width="1" height="1" fill="#000" />
<rect x="1794" y="273" width="1" height="1" fill="#000" />
<rect x="1795" y="273" width="1" height="1" fill="#000" />
<rect x="1792" y="274" width="1" height="1" fill="#000" />
<rect x="1793" y="274" width="1" height="1" fill="#000" />
<rect x="1792" y="275" width="1" height="1" fill="#000" />
<rect x="1792" y="276" width="1" height="1" fill="#000" />
<rect x="1780" y="278" width="1" height="1" fill="#000" />
<rect x="1781" y="278" width="1" height="1" fill="#000" />
<rect x="1782" y="278" width="1" height="1" fill="#000" />
<rect x="1783" y="278" width="1" height="1" fill="#000" />
<rect x="1779" y="279" width="1" height="1" fill="#000" />
<rect x="1780" y="279" width="1" height="1" fill="#000" />
<rect x="1783" y="279" width="1" height="1" fill="#000" />
<rect x="1784" y="279" width="1" height="1" fill="#000" />
<rect x="1783" y="280" width="1" height="1" fill="#000" />
<rect x="1784" y="280" width="1" height="1" fill="#000" />
<rect x="1782" y="281" width="1" height="1" fill="#000" />
<rect x="1783" y="281" width="1" height="1" fill="#000" />
<rect x="1781" y="282" width="1" height="1" fill="#000" />
<rect x="1782" y="282" width="1" height="1" fill="#000" />
<rect x="1781" y="283" width="1" height="1" fill="#000" />
<rect x="1782" y="283" width="1" height="1" fill="#000" />
<rect x="1781" y="285" width="1" height="1" fill="#000" />
<rect x="1782" y="285" width="1" height="1" fill="#000" />
<rect x="1781" y="286" width="1" height="1" fill="#000" />
<rect x="1782" y="286" width="1" height="1" fill="#000" />
<rect x="1786" y="278" width="2" height="6" fill="#000" />
<rect x="1786" y="285" width="2" height="2" fill="#000" />
<text x="35" y="106" font-size="12.5" fill="#000" text-anchor="start" font-weight="normal" font-family="Liberation Sans" textLength="75.5" lengthAdjust="spacingAndGlyphs" xml:space="preserve" >servo  channel</text>
<text x="158.3" y="161" font-size="12.5" fill="#000" text-anchor="start" font-weight="normal" font-family="Liberation Sans" textLength="72" lengthAdjust="spacingAndGlyphs" xml:space="preserve" >Fan 2 channel</text>
<text x="158.3" y="184" font-size="12.5" fill="#000" text-anchor="start" font-weight="normal" font-family="Liberation Sans" textLength="72" lengthAdjust="spacingAndGlyphs" xml:space="preserve" >Fan 1 channel</text>
<text x="151.3" y="341" font-size="12.5" fill="#000" text-anchor="start" font-weight="normal" font-family="Liberation Sans" textLength="79" lengthAdjust="spacingAndGlyphs" xml:space="preserve" >therm  channel</text>
<text x="1.3" y="241.5" font-size="12.5" fill="#000" text-anchor="start" font-weight="normal" font-family="Liberation Sans" textLength="52" lengthAdjust="spacingAndGlyphs" xml:space="preserve" >Serial Port</text>
<text x="281.4" y="232.5" font-size="12.5" fill="#000" text-anchor="start" font-weight="normal" font-family="Liberation Sans" textLength="75" lengthAdjust="spacingAndGlyphs" xml:space="preserve" >piezo  channel</text>
<text x="278.5" y="258.5" font-size="12.5" fill="#000" text-anchor="start" font-weight="normal" font-family="Liberation Sans" textLength="78" lengthAdjust="spacingAndGlyphs" xml:space="preserve" >switch channel</text>
<text x="392.6" y="57.5" font-size="12.5" fill="#000" text-anchor="start" font-weight="normal" font-family="Liberation Sans" textLength="77" lengthAdjust="spacingAndGlyphs" xml:space="preserve" >Loop Rate (Hz)</text>
<text x="501.6" y="308.7" font-size="12.5" fill="#000" text-anchor="start" font-weight="normal" font-family="Liberation Sans" textLength="71.6" lengthAdjust="spacingAndGlyphs" xml:space="preserve" >swich voltage</text>
<text x="377.7" y="379.8" font-size="12.5" fill="#000" text-anchor="start" font-weight="normal" font-family="Liberation Sans" textLength="41.3" lengthAdjust="spacingAndGlyphs" xml:space="preserve" >Temp C</text>
<text x="853.3" y="137.7" font-size="12.5" fill="#000" text-anchor="start" font-weight="normal" font-family="Liberation Sans" textLength="85.8" lengthAdjust="spacingAndGlyphs" xml:space="preserve" >Pulse Width (uS)</text>
<text x="1405.7" y="140" font-size="12.5" fill="#000" text-anchor="start" font-weight="normal" font-family="Liberation Sans" textLength="51" lengthAdjust="spacingAndGlyphs" xml:space="preserve" >Boolean 3</text>
<text x="1405.7" y="167" font-size="12.5" fill="#000" text-anchor="start" font-weight="normal" font-family="Liberation Sans" textLength="51" lengthAdjust="spacingAndGlyphs" xml:space="preserve" >Boolean 2</text>
<text x="1405.7" y="194.7" font-size="12.5" fill="#000" text-anchor="start" font-weight="normal" font-family="Liberation Sans" textLength="41.5" lengthAdjust="spacingAndGlyphs" xml:space="preserve" >Boolean</text>
<text x="1309.4" y="550" font-size="12.5" fill="#000" text-anchor="start" font-weight="normal" font-family="Liberation Sans" textLength="61.7" lengthAdjust="spacingAndGlyphs" xml:space="preserve" >Stop Button</text>
<text x="1683.6" y="311.4" font-size="12.5" fill="#000" text-anchor="start" font-weight="normal" font-family="Liberation Sans" textLength="61.6" lengthAdjust="spacingAndGlyphs" xml:space="preserve" >Stop Button</text>
<g shape-rendering="auto" font-family="Liberation Sans" font-weight="bold" font-size="23.1">
<text x="1326" y="549" fill="rgba(255,255,255,0.35)" stroke="#d4d4d4" stroke-width="0.5" textLength="102" lengthAdjust="spacingAndGlyphs">NATIONAL</text>
<text x="1312" y="574.5" fill="rgba(255,255,255,0.6)" textLength="164" lengthAdjust="spacingAndGlyphs">INSTRUMENTS</text>
<path d="M1254,537 L1276,563 M1287,540 Q1292,534 1303,536 M1311,530 L1296,556 L1290,548" fill="none" stroke="#d0d0d0" stroke-width="0.7"/>
<path d="M1268,565 L1280,559 L1302,565 Z" fill="rgba(255,255,255,0.55)"/>
<rect x="1374" y="539" width="32" height="16" fill="rgba(255,255,255,0.22)"/>
<rect x="1475" y="554.5" width="6" height="2.2" fill="rgba(255,255,255,0.8)"/>
</g>
</svg>
</body></html>
